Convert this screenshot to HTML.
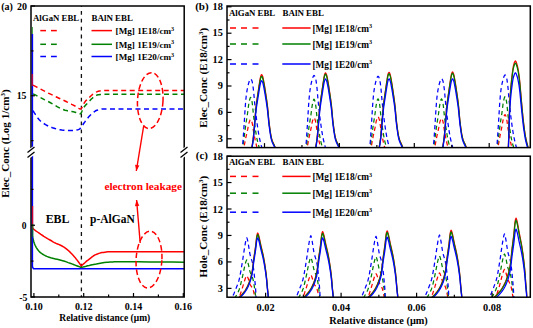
<!DOCTYPE html>
<html><head><meta charset="utf-8"><style>
html,body{margin:0;padding:0;background:#fff;width:533px;height:328px;overflow:hidden}
svg{display:block}
text{font-family:"Liberation Serif",serif;font-weight:bold}
</style></head><body>
<svg width="533" height="328" viewBox="0 0 533 328">
<clipPath id="ca"><rect x="31" y="6" width="153" height="291"/></clipPath>
<g clip-path="url(#ca)">
<line x1="81.4" y1="6" x2="81.4" y2="297" stroke="#111" stroke-width="1.3" stroke-dasharray="3.8,4.1" stroke-dashoffset="3.0"/>
<polyline points="33.0,85.2 36.8,87.2 40.7,89.2 44.5,91.1 48.3,93.1 52.2,94.9 56.0,96.8 57.5,97.5 59.0,98.2 60.5,98.9 62.0,99.6 63.5,100.3 65.0,101.0 66.7,101.8 68.3,102.6 70.0,103.4 71.7,104.3 73.3,105.1 75.0,106.0 75.9,106.6 76.8,107.2 77.8,107.9 78.7,108.4 79.6,108.8 80.5,109.0 81.2,108.6 82.0,107.5 82.8,106.1 83.5,104.5 84.2,103.0 85.0,101.8 85.8,100.8 86.7,99.9 87.5,99.1 88.3,98.3 89.2,97.6 90.0,96.8 90.8,96.0 91.7,95.2 92.5,94.4 93.3,93.7 94.2,93.1 95.0,92.6 95.8,92.2 96.7,91.9 97.5,91.5 98.3,91.3 99.2,91.0 100.0,90.9 101.0,90.8 102.0,90.6 103.0,90.5 104.0,90.5 105.0,90.4 106.0,90.4 119.0,90.4 132.0,90.4 145.0,90.4 158.0,90.4 171.0,90.4 184.0,90.4" fill="none" stroke="#ff0000" stroke-width="1.5" stroke-dasharray="5,3.5" stroke-linejoin="round" />
<polyline points="33.0,93.8 35.8,95.2 38.7,96.7 41.5,98.1 44.3,99.6 47.2,101.0 50.0,102.5 52.5,103.9 55.0,105.3 57.5,106.8 60.0,108.2 62.5,109.3 65.0,110.2 66.7,110.6 68.3,111.0 70.0,111.2 71.7,111.5 73.3,111.8 75.0,112.2 75.9,112.5 76.8,112.8 77.8,113.2 78.7,113.5 79.6,113.7 80.5,113.8 80.9,113.5 81.3,112.7 81.8,111.6 82.2,110.5 82.6,109.3 83.0,108.5 83.8,107.3 84.7,106.2 85.5,105.2 86.3,104.4 87.2,103.5 88.0,102.6 88.8,101.7 89.7,100.8 90.5,99.9 91.3,99.0 92.2,98.3 93.0,97.6 93.8,97.0 94.7,96.4 95.5,95.8 96.3,95.4 97.2,95.0 98.0,94.8 99.0,94.7 100.0,94.5 101.0,94.4 102.0,94.4 103.0,94.3 104.0,94.3 117.3,94.3 130.7,94.3 144.0,94.3 157.3,94.3 170.7,94.3 184.0,94.3" fill="none" stroke="#008000" stroke-width="1.5" stroke-dasharray="5,3.5" stroke-linejoin="round" />
<polyline points="33.0,110.6 34.2,112.7 35.5,114.7 36.8,116.6 38.0,118.3 39.2,119.8 40.5,121.0 42.2,122.3 43.8,123.5 45.5,124.6 47.2,125.5 48.8,126.3 50.5,127.0 52.4,127.7 54.2,128.3 56.1,128.9 58.0,129.4 59.9,129.7 61.8,130.0 63.4,130.2 65.1,130.3 66.8,130.4 68.4,130.5 70.1,130.6 71.8,130.6 73.0,130.6 74.2,130.5 75.4,130.3 76.6,130.1 77.8,129.8 79.0,129.4 79.3,129.2 79.7,129.0 80.0,128.7 80.3,128.3 80.7,127.9 81.0,127.5 81.2,127.3 81.3,127.0 81.5,126.8 81.7,126.5 81.8,126.3 82.0,126.0 82.7,125.0 83.3,124.0 84.0,123.0 84.7,122.1 85.3,121.2 86.0,120.3 87.0,119.0 88.0,117.8 89.0,116.6 90.0,115.5 91.0,114.5 92.0,113.6 92.8,112.9 93.7,112.2 94.5,111.6 95.3,111.0 96.2,110.5 97.0,110.2 98.2,109.9 99.3,109.6 100.5,109.3 101.7,109.1 102.8,108.9 104.0,108.9 117.3,108.9 130.7,108.9 144.0,108.9 157.3,108.9 170.7,108.9 184.0,108.9" fill="none" stroke="#0000ff" stroke-width="1.5" stroke-dasharray="5,3.5" stroke-linejoin="round" />
<polyline points="32.4,228.2 34.1,229.5 35.8,230.8 37.5,232.0 39.2,233.2 40.9,234.4 42.6,235.5 43.8,236.3 45.1,237.1 46.3,237.8 47.5,238.6 48.8,239.3 50.0,240.0 50.9,240.5 51.8,241.0 52.6,241.6 53.5,242.1 54.4,242.6 55.3,243.0 56.1,243.4 56.9,243.7 57.6,244.0 58.4,244.3 59.2,244.6 60.0,245.0 61.0,245.5 62.0,246.0 63.0,246.6 64.0,247.2 65.0,247.9 66.0,248.6 67.3,249.6 68.6,250.7 69.8,251.9 71.1,253.2 72.4,254.6 73.7,256.0 75.0,257.4 76.2,259.0 77.5,260.6 78.7,262.3 80.0,264.1 81.2,266.0 81.2,266.0 82.4,264.9 83.6,263.8 84.8,262.8 86.0,261.7 87.2,260.7 88.4,259.8 89.6,258.8 90.9,257.8 92.1,256.9 93.3,256.0 94.6,255.2 95.8,254.6 96.8,254.2 97.9,253.8 98.9,253.4 99.9,253.1 101.0,252.8 102.0,252.6 103.5,252.4 104.9,252.2 106.3,252.0 107.8,251.8 109.2,251.7 110.7,251.7 122.9,251.7 135.1,251.7 147.3,251.7 159.6,251.7 171.8,251.7 184.0,251.7" fill="none" stroke="#ff0000" stroke-width="1.5" stroke-linejoin="round" />
<polyline points="32.2,150.0 32.4,228.2" fill="none" stroke="#ff0000" stroke-width="1.2" stroke-linejoin="round" />
<polyline points="32.4,236.5 32.9,238.3 33.4,240.1 33.8,241.7 34.3,243.2 34.8,244.5 35.3,245.6 36.2,247.3 37.1,248.8 38.0,250.1 39.0,251.2 39.9,252.1 40.8,252.9 42.3,254.0 43.8,254.9 45.3,255.7 46.9,256.4 48.4,257.0 49.9,257.5 51.7,258.1 53.6,258.5 55.4,258.9 57.2,259.3 59.1,259.7 60.9,260.2 62.7,260.7 64.6,261.3 66.4,261.9 68.2,262.6 70.1,263.2 71.9,263.9 73.5,264.5 75.0,265.1 76.6,265.7 78.1,266.3 79.7,266.9 81.2,267.6 81.2,267.6 82.8,267.1 84.4,266.7 86.1,266.3 87.7,265.8 89.3,265.5 90.9,265.1 93.6,264.5 96.3,264.0 99.0,263.4 101.6,263.0 104.3,262.6 107.0,262.3 108.5,262.2 109.9,262.1 111.3,262.0 112.8,261.9 114.2,261.8 115.7,261.8 127.1,261.8 138.5,261.8 149.8,261.9 161.2,261.9 172.6,262.1 184.0,262.3" fill="none" stroke="#008000" stroke-width="1.5" stroke-linejoin="round" />
<polyline points="32.2,180.0 32.4,236.5" fill="none" stroke="#008000" stroke-width="1.2" stroke-linejoin="round" />
<polyline points="32.4,34.0 32.4,266.5 33.4,268.8 184.0,268.8" fill="none" stroke="#0000ff" stroke-width="1.5" stroke-linejoin="round" />
</g>
<rect x="31" y="6" width="153.2" height="291" fill="none" stroke="#000000" stroke-width="1.5"/>
<line x1="32.4" y1="34" x2="32.4" y2="268" stroke="#0000ff" stroke-width="1.1"/>
<line x1="32.3" y1="27" x2="32.3" y2="34" stroke="#008000" stroke-width="0.9"/>
<line x1="32.2" y1="74" x2="32.2" y2="86" stroke="#ff0000" stroke-width="1.0"/>
<line x1="32.7" y1="206" x2="32.7" y2="229" stroke="#ff0000" stroke-width="1.0"/>
<line x1="32.8" y1="224" x2="32.8" y2="237" stroke="#008000" stroke-width="1.0"/>
<line x1="31" y1="6.0" x2="35" y2="6.0" stroke="#000000" stroke-width="1.2"/>
<line x1="31" y1="95.75" x2="35" y2="95.75" stroke="#000000" stroke-width="1.2"/>
<line x1="31" y1="225.25" x2="35" y2="225.25" stroke="#000000" stroke-width="1.2"/>
<line x1="31" y1="297.0" x2="35" y2="297.0" stroke="#000000" stroke-width="1.2"/>
<line x1="31" y1="50.875" x2="33.5" y2="50.875" stroke="#000000" stroke-width="1.2"/>
<line x1="31" y1="140.625" x2="33.5" y2="140.625" stroke="#000000" stroke-width="1.2"/>
<line x1="31" y1="189.375" x2="33.5" y2="189.375" stroke="#000000" stroke-width="1.2"/>
<line x1="31" y1="261.125" x2="33.5" y2="261.125" stroke="#000000" stroke-width="1.2"/>
<line x1="33.9" y1="297" x2="33.9" y2="293" stroke="#000000" stroke-width="1.2"/>
<line x1="83.69999999999996" y1="297" x2="83.69999999999996" y2="293" stroke="#000000" stroke-width="1.2"/>
<line x1="133.50000000000003" y1="297" x2="133.50000000000003" y2="293" stroke="#000000" stroke-width="1.2"/>
<line x1="183.29999999999998" y1="297" x2="183.29999999999998" y2="293" stroke="#000000" stroke-width="1.2"/>
<line x1="58.79999999999998" y1="297" x2="58.79999999999998" y2="294.5" stroke="#000000" stroke-width="1.2"/>
<line x1="108.6" y1="297" x2="108.6" y2="294.5" stroke="#000000" stroke-width="1.2"/>
<line x1="158.39999999999998" y1="297" x2="158.39999999999998" y2="294.5" stroke="#000000" stroke-width="1.2"/>
<polygon points="27,150.5 35,145 35,154.5 27,160" fill="#fff"/>
<line x1="27.5" y1="152.5" x2="34.5" y2="147" stroke="#000000" stroke-width="1.3"/>
<line x1="27.5" y1="157.5" x2="34.5" y2="152" stroke="#000000" stroke-width="1.3"/>
<polygon points="180,150.5 188,145 188,154.5 180,160" fill="#fff"/>
<line x1="180.5" y1="152.5" x2="187.5" y2="147" stroke="#000000" stroke-width="1.3"/>
<line x1="180.5" y1="157.5" x2="187.5" y2="152" stroke="#000000" stroke-width="1.3"/>
<ellipse cx="150.25" cy="100.6" rx="12.75" ry="28" transform="rotate(3 150.25 100.6)" fill="none" stroke="#ff0000" stroke-width="1.5" stroke-dasharray="5.5,3"/>
<ellipse cx="149" cy="259.6" rx="12.9" ry="28.4" transform="rotate(3 149 259.6)" fill="none" stroke="#ff0000" stroke-width="1.5" stroke-dasharray="5.5,3"/>
<line x1="143.75" y1="125.5" x2="136.3" y2="171" stroke="#ff0000" stroke-width="1.4"/>
<polygon points="136.3,171 135.10,164.72 139.44,165.43" fill="#ff0000"/>
<line x1="140.2" y1="243" x2="136.6" y2="200" stroke="#ff0000" stroke-width="1.4"/>
<polygon points="136.6,200 139.29,205.80 134.91,206.16" fill="#ff0000"/>
<clipPath id="cb"><rect x="227" y="6" width="303" height="141.6"/></clipPath>
<g clip-path="url(#cb)">
<polyline points="228.6,165.1 229.1,165.1 229.6,165.1 230.1,165.0 230.6,165.0 231.1,165.0 231.6,165.0 232.1,164.9 232.6,164.9 233.1,164.9 233.6,164.8 234.1,164.8 234.6,164.7 235.1,164.6 235.6,164.6 236.1,164.5 236.6,164.4 237.1,164.3 237.6,164.1 238.1,164.0 238.6,163.8 239.1,163.3 239.6,162.5 240.1,161.6 240.6,160.6 241.1,159.4 241.6,157.9 242.1,156.1 242.6,153.8 243.1,151.4 243.6,148.9 244.1,146.4 244.6,143.9 245.1,141.3 245.6,138.7 246.1,136.4 246.6,134.3 247.1,132.2 247.6,129.9 248.1,127.2 248.6,124.6 249.1,122.6 249.6,121.2 250.1,119.9 250.6,119.4 251.1,119.9 251.6,121.1 252.1,122.6 252.6,125.2 253.1,128.7 253.6,131.9 254.1,134.6 254.6,137.2 255.1,139.6 255.6,141.9 256.1,144.0 256.6,146.1 257.1,147.8 257.6,149.3 258.1,150.7 258.6,151.9 259.1,153.1 259.6,154.2 260.1,155.2 260.6,156.2 261.1,157.1 261.6,158.1 262.1,159.0 262.6,159.9 263.1,160.6 263.6,161.3 264.1,161.9 264.6,162.5 265.1,163.0 265.6,163.4 266.1,163.6 266.6,163.8 267.1,163.9 267.6,164.1 268.1,164.2 268.6,164.3 269.1,164.4 269.6,164.5 270.1,164.6 270.6,164.7 271.1,164.7 271.6,164.8 272.1,164.8 272.6,164.9 273.1,164.9 273.6,165.0 274.1,165.0 274.6,165.0 275.1,165.0 275.6,165.0" fill="none" stroke="#ff0000" stroke-width="1.25" stroke-dasharray="4.2,3.2" stroke-linejoin="round" />
<polyline points="228.6,165.0 229.1,165.0 229.6,165.0 230.1,165.0 230.6,164.9 231.1,164.9 231.6,164.8 232.1,164.8 232.6,164.7 233.1,164.7 233.6,164.6 234.1,164.5 234.6,164.5 235.1,164.4 235.6,164.2 236.1,164.1 236.6,164.0 237.1,163.8 237.6,163.6 238.1,163.4 238.6,163.2 239.1,162.4 239.6,161.3 240.1,159.9 240.6,158.4 241.1,156.6 241.6,154.4 242.1,151.7 242.6,148.3 243.1,144.7 243.6,141.1 244.1,137.4 244.6,133.6 245.1,129.8 245.6,126.0 246.1,122.5 246.6,119.4 247.1,116.3 247.6,113.0 248.1,109.0 248.6,105.1 249.1,102.2 249.6,100.0 250.1,98.2 250.6,97.4 251.1,98.1 251.6,99.9 252.1,102.2 252.6,106.0 253.1,111.2 253.6,115.9 254.1,119.9 254.6,123.7 255.1,127.3 255.6,130.6 256.1,133.9 256.6,136.8 257.1,139.5 257.6,141.7 258.1,143.7 258.6,145.5 259.1,147.2 259.6,148.9 260.1,150.4 260.6,151.8 261.1,153.3 261.6,154.7 262.1,156.1 262.6,157.3 263.1,158.4 263.6,159.4 264.1,160.3 264.6,161.1 265.1,161.9 265.6,162.5 266.1,162.8 266.6,163.1 267.1,163.3 267.6,163.6 268.1,163.7 268.6,163.9 269.1,164.1 269.6,164.2 270.1,164.3 270.6,164.4 271.1,164.5 271.6,164.6 272.1,164.7 272.6,164.7 273.1,164.8 273.6,164.8 274.1,164.9 274.6,164.9 275.1,164.9 275.6,165.0" fill="none" stroke="#008000" stroke-width="1.25" stroke-dasharray="4.2,3.2" stroke-linejoin="round" />
<polyline points="228.6,165.0 229.1,165.0 229.6,164.9 230.1,164.9 230.6,164.8 231.1,164.8 231.6,164.8 232.1,164.7 232.6,164.6 233.1,164.5 233.6,164.5 234.1,164.4 234.6,164.2 235.1,164.1 235.6,164.0 236.1,163.8 236.6,163.6 237.1,163.4 237.6,163.2 238.1,162.9 238.6,162.6 239.1,161.8 239.6,160.6 240.1,159.0 240.6,157.3 241.1,155.4 241.6,153.0 242.1,150.0 242.6,145.8 243.1,139.6 243.6,132.3 244.1,124.9 244.6,116.9 245.1,108.9 245.6,102.4 246.1,97.0 246.6,93.1 247.1,90.1 247.6,87.5 248.1,85.3 248.6,83.4 249.1,81.7 249.6,80.5 250.1,79.4 250.6,79.0 251.1,79.3 251.6,80.1 252.1,81.2 252.6,83.7 253.1,87.1 253.6,91.1 254.1,96.7 254.6,102.2 255.1,107.0 255.6,111.5 256.1,115.8 256.6,119.8 257.1,123.5 257.6,127.1 258.1,130.4 258.6,133.5 259.1,136.2 259.6,138.7 260.1,141.0 260.6,143.1 261.1,145.1 261.6,146.9 262.1,148.6 262.6,150.1 263.1,151.6 263.6,153.0 264.1,154.3 264.6,155.5 265.1,156.6 265.6,157.6 266.1,158.6 266.6,159.5 267.1,160.3 267.6,161.1 268.1,161.8 268.6,162.2 269.1,162.5 269.6,162.8 270.1,163.1 270.6,163.4 271.1,163.6 271.6,163.8 272.1,163.9 272.6,164.1 273.1,164.2 273.6,164.3 274.1,164.4 274.6,164.5 275.1,164.6 275.6,164.7" fill="none" stroke="#0000ff" stroke-width="1.25" stroke-dasharray="4.2,3.2" stroke-linejoin="round" />
<polyline points="231.6,165.2 232.1,165.1 232.6,165.1 233.1,165.1 233.6,165.1 234.1,165.1 234.6,165.1 235.1,165.1 235.6,165.1 236.1,165.0 236.6,165.0 237.1,165.0 237.6,165.0 238.1,164.9 238.6,164.9 239.1,164.9 239.6,164.8 240.1,164.8 240.6,164.7 241.1,164.7 241.6,164.6 242.1,164.5 242.6,164.4 243.1,164.3 243.6,164.2 244.1,164.1 244.6,163.9 245.1,163.7 245.6,163.6 246.1,163.3 246.6,163.1 247.1,162.8 247.6,162.5 248.1,162.1 248.6,161.2 249.1,159.9 249.6,158.5 250.1,156.8 250.6,154.9 251.1,152.2 251.6,149.1 252.1,145.9 252.6,142.8 253.1,139.4 253.6,134.6 254.1,128.7 254.6,122.8 255.1,117.0 255.6,111.3 256.1,106.3 256.6,102.2 257.1,98.7 257.6,95.4 258.1,92.0 258.6,88.6 259.1,85.2 259.6,82.1 260.1,78.9 260.6,76.6 261.1,75.2 261.6,74.6 262.1,75.1 262.6,76.3 263.1,78.0 263.6,80.5 264.1,83.3 264.6,86.2 265.1,89.4 265.6,92.7 266.1,96.0 266.6,99.4 267.1,103.1 267.6,107.2 268.1,112.4 268.6,118.0 269.1,122.8 269.6,126.7 270.1,130.3 270.6,133.6 271.1,136.4 271.6,138.6 272.1,140.2 272.6,141.5 273.1,142.6 273.6,143.7 274.1,144.7 274.6,145.9 275.1,147.2 275.6,148.5 276.1,149.8 276.6,151.1 277.1,152.3 277.6,153.4 278.1,154.5 278.6,155.5 279.1,156.5 279.6,157.4 280.1,158.3 280.6,159.1 281.1,159.9 281.6,160.7 282.1,161.2 282.6,161.7 283.1,162.1 283.6,162.5 284.1,162.8 284.6,163.1 285.1,163.3 285.6,163.5 286.1,163.7 286.6,163.9" fill="none" stroke="#ff0000" stroke-width="1.25" stroke-linejoin="round" />
<polyline points="231.6,165.2 232.1,165.1 232.6,165.1 233.1,165.1 233.6,165.1 234.1,165.1 234.6,165.1 235.1,165.1 235.6,165.1 236.1,165.0 236.6,165.0 237.1,165.0 237.6,165.0 238.1,165.0 238.6,164.9 239.1,164.9 239.6,164.8 240.1,164.8 240.6,164.7 241.1,164.7 241.6,164.6 242.1,164.5 242.6,164.4 243.1,164.3 243.6,164.2 244.1,164.1 244.6,163.9 245.1,163.8 245.6,163.6 246.1,163.4 246.6,163.1 247.1,162.8 247.6,162.5 248.1,162.1 248.6,161.3 249.1,160.0 249.6,158.6 250.1,157.0 250.6,155.1 251.1,152.5 251.6,149.4 252.1,146.3 252.6,143.3 253.1,139.9 253.6,135.2 254.1,129.4 254.6,123.6 255.1,117.9 255.6,112.3 256.1,107.4 256.6,103.5 257.1,100.0 257.6,96.7 258.1,93.4 258.6,90.1 259.1,86.8 259.6,83.7 260.1,80.6 260.6,78.3 261.1,76.9 261.6,76.3 262.1,76.8 262.6,78.0 263.1,79.7 263.6,82.2 264.1,84.9 264.6,87.7 265.1,90.9 265.6,94.1 266.1,97.3 266.6,100.7 267.1,104.3 267.6,108.3 268.1,113.4 268.6,118.9 269.1,123.6 269.6,127.4 270.1,131.0 270.6,134.2 271.1,137.0 271.6,139.1 272.1,140.7 272.6,142.0 273.1,143.1 273.6,144.1 274.1,145.1 274.6,146.3 275.1,147.5 275.6,148.8 276.1,150.1 276.6,151.3 277.1,152.5 277.6,153.6 278.1,154.7 278.6,155.7 279.1,156.6 279.6,157.5 280.1,158.4 280.6,159.3 281.1,160.0 281.6,160.8 282.1,161.3 282.6,161.7 283.1,162.1 283.6,162.5 284.1,162.8 284.6,163.1 285.1,163.3 285.6,163.6 286.1,163.8 286.6,163.9" fill="none" stroke="#008000" stroke-width="1.25" stroke-linejoin="round" />
<polyline points="231.6,165.2 232.1,165.1 232.6,165.1 233.1,165.1 233.6,165.1 234.1,165.1 234.6,165.1 235.1,165.1 235.6,165.1 236.1,165.1 236.6,165.0 237.1,165.0 237.6,165.0 238.1,165.0 238.6,164.9 239.1,164.9 239.6,164.9 240.1,164.8 240.6,164.8 241.1,164.7 241.6,164.6 242.1,164.6 242.6,164.5 243.1,164.4 243.6,164.3 244.1,164.1 244.6,164.0 245.1,163.8 245.6,163.7 246.1,163.5 246.6,163.2 247.1,163.0 247.6,162.7 248.1,162.3 248.6,161.4 249.1,160.3 249.6,158.9 250.1,157.4 250.6,155.6 251.1,153.1 251.6,150.2 252.1,147.2 252.6,144.4 253.1,141.1 253.6,136.7 254.1,131.2 254.6,125.7 255.1,120.3 255.6,114.9 256.1,110.3 256.6,106.5 257.1,103.2 257.6,100.1 258.1,97.0 258.6,93.8 259.1,90.7 259.6,87.7 260.1,84.8 260.6,82.6 261.1,81.3 261.6,80.7 262.1,81.2 262.6,82.3 263.1,83.9 263.6,86.3 264.1,88.8 264.6,91.6 265.1,94.5 265.6,97.6 266.1,100.7 266.6,103.9 267.1,107.3 267.6,111.1 268.1,116.0 268.6,121.2 269.1,125.7 269.6,129.3 270.1,132.7 270.6,135.8 271.1,138.4 271.6,140.4 272.1,141.9 272.6,143.1 273.1,144.2 273.6,145.1 274.1,146.1 274.6,147.2 275.1,148.4 275.6,149.6 276.1,150.8 276.6,152.0 277.1,153.2 277.6,154.2 278.1,155.2 278.6,156.1 279.1,157.1 279.6,157.9 280.1,158.8 280.6,159.5 281.1,160.3 281.6,161.0 282.1,161.5 282.6,161.9 283.1,162.3 283.6,162.6 284.1,162.9 284.6,163.2 285.1,163.4 285.6,163.6 286.1,163.8 286.6,164.0" fill="none" stroke="#0000ff" stroke-width="1.25" stroke-linejoin="round" />
<polyline points="292.0,165.1 292.5,165.1 293.0,165.0 293.5,165.0 294.0,165.0 294.5,165.0 295.0,165.0 295.5,164.9 296.0,164.9 296.5,164.8 297.0,164.8 297.5,164.7 298.0,164.7 298.5,164.6 299.0,164.5 299.5,164.4 300.0,164.3 300.5,164.2 301.0,164.1 301.5,163.9 302.0,163.8 302.5,163.2 303.0,162.4 303.5,161.5 304.0,160.4 304.5,159.2 305.0,157.6 305.5,155.8 306.0,153.3 306.5,150.9 307.0,148.3 307.5,145.7 308.0,143.1 308.5,140.4 309.0,137.7 309.5,135.3 310.0,133.1 310.5,130.9 311.0,128.6 311.5,125.8 312.0,123.1 312.5,121.0 313.0,119.5 313.5,118.2 314.0,117.7 314.5,118.2 315.0,119.4 315.5,121.0 316.0,123.7 316.5,127.3 317.0,130.6 317.5,133.4 318.0,136.1 318.5,138.6 319.0,141.0 319.5,143.2 320.0,145.3 320.5,147.1 321.0,148.7 321.5,150.1 322.0,151.4 322.5,152.6 323.0,153.8 323.5,154.8 324.0,155.8 324.5,156.8 325.0,157.8 325.5,158.8 326.0,159.7 326.5,160.4 327.0,161.1 327.5,161.8 328.0,162.4 328.5,162.9 329.0,163.3 329.5,163.5 330.0,163.7 330.5,163.9 331.0,164.0 331.5,164.2 332.0,164.3 332.5,164.4 333.0,164.5 333.5,164.6 334.0,164.7 334.5,164.7 335.0,164.8 335.5,164.8 336.0,164.9 336.5,164.9 337.0,164.9 337.5,165.0 338.0,165.0 338.5,165.0 339.0,165.0" fill="none" stroke="#ff0000" stroke-width="1.25" stroke-dasharray="4.2,3.2" stroke-linejoin="round" />
<polyline points="292.0,165.0 292.5,165.0 293.0,165.0 293.5,165.0 294.0,164.9 294.5,164.9 295.0,164.9 295.5,164.8 296.0,164.8 296.5,164.7 297.0,164.6 297.5,164.6 298.0,164.5 298.5,164.4 299.0,164.3 299.5,164.1 300.0,164.0 300.5,163.8 301.0,163.7 301.5,163.5 302.0,163.2 302.5,162.5 303.0,161.4 303.5,160.1 304.0,158.6 304.5,156.8 305.0,154.7 305.5,152.1 306.0,148.7 306.5,145.3 307.0,141.7 307.5,138.1 308.0,134.5 308.5,130.7 309.0,127.0 309.5,123.6 310.0,120.6 310.5,117.6 311.0,114.3 311.5,110.5 312.0,106.7 312.5,103.8 313.0,101.7 313.5,99.9 314.0,99.2 314.5,99.9 315.0,101.6 315.5,103.8 316.0,107.5 316.5,112.6 317.0,117.2 317.5,121.1 318.0,124.8 318.5,128.2 319.0,131.5 319.5,134.7 320.0,137.6 320.5,140.1 321.0,142.3 321.5,144.2 322.0,146.0 322.5,147.7 323.0,149.3 323.5,150.8 324.0,152.2 324.5,153.6 325.0,155.0 325.5,156.3 326.0,157.5 326.5,158.6 327.0,159.6 327.5,160.4 328.0,161.2 328.5,162.0 329.0,162.6 329.5,162.9 330.0,163.1 330.5,163.4 331.0,163.6 331.5,163.8 332.0,164.0 332.5,164.1 333.0,164.2 333.5,164.3 334.0,164.4 334.5,164.5 335.0,164.6 335.5,164.7 336.0,164.7 336.5,164.8 337.0,164.8 337.5,164.9 338.0,164.9 338.5,165.0 339.0,165.0" fill="none" stroke="#008000" stroke-width="1.25" stroke-dasharray="4.2,3.2" stroke-linejoin="round" />
<polyline points="292.0,165.0 292.5,164.9 293.0,164.9 293.5,164.9 294.0,164.8 294.5,164.8 295.0,164.7 295.5,164.7 296.0,164.6 296.5,164.5 297.0,164.4 297.5,164.3 298.0,164.2 298.5,164.1 299.0,163.9 299.5,163.8 300.0,163.6 300.5,163.3 301.0,163.1 301.5,162.8 302.0,162.5 302.5,161.6 303.0,160.4 303.5,158.8 304.0,157.0 304.5,155.0 305.0,152.5 305.5,149.4 306.0,145.0 306.5,138.5 307.0,130.9 307.5,123.3 308.0,115.0 308.5,106.6 309.0,99.9 309.5,94.2 310.0,90.2 310.5,87.0 311.0,84.3 311.5,82.1 312.0,80.0 312.5,78.3 313.0,77.0 313.5,75.9 314.0,75.4 314.5,75.8 315.0,76.6 315.5,77.8 316.0,80.3 316.5,83.9 317.0,88.0 317.5,93.9 318.0,99.7 318.5,104.6 319.0,109.3 319.5,113.8 320.0,118.0 320.5,121.8 321.0,125.5 321.5,129.0 322.0,132.2 322.5,135.0 323.0,137.6 323.5,140.0 324.0,142.2 324.5,144.2 325.0,146.1 325.5,147.9 326.0,149.5 326.5,151.1 327.0,152.5 327.5,153.8 328.0,155.1 328.5,156.2 329.0,157.3 329.5,158.3 330.0,159.2 330.5,160.1 331.0,160.9 331.5,161.6 332.0,162.0 332.5,162.4 333.0,162.7 333.5,163.0 334.0,163.3 334.5,163.5 335.0,163.7 335.5,163.9 336.0,164.0 336.5,164.2 337.0,164.3 337.5,164.4 338.0,164.5 338.5,164.6 339.0,164.6" fill="none" stroke="#0000ff" stroke-width="1.25" stroke-dasharray="4.2,3.2" stroke-linejoin="round" />
<polyline points="295.5,165.1 296.0,165.1 296.5,165.1 297.0,165.1 297.5,165.1 298.0,165.1 298.5,165.1 299.0,165.1 299.5,165.1 300.0,165.0 300.5,165.0 301.0,165.0 301.5,165.0 302.0,164.9 302.5,164.9 303.0,164.9 303.5,164.8 304.0,164.8 304.5,164.7 305.0,164.7 305.5,164.6 306.0,164.5 306.5,164.4 307.0,164.3 307.5,164.2 308.0,164.0 308.5,163.9 309.0,163.7 309.5,163.5 310.0,163.3 310.5,163.0 311.0,162.8 311.5,162.4 312.0,162.0 312.5,161.1 313.0,159.8 313.5,158.3 314.0,156.7 314.5,154.7 315.0,152.0 315.5,148.8 316.0,145.5 316.5,142.4 317.0,138.9 317.5,134.0 318.0,128.0 318.5,122.0 319.0,116.1 319.5,110.2 320.0,105.1 320.5,101.0 321.0,97.4 321.5,94.0 322.0,90.6 322.5,87.1 323.0,83.7 323.5,80.5 324.0,77.2 324.5,74.8 325.0,73.4 325.5,72.8 326.0,73.4 326.5,74.6 327.0,76.3 327.5,78.9 328.0,81.7 328.5,84.7 329.0,87.9 329.5,91.3 330.0,94.7 330.5,98.1 331.0,101.8 331.5,106.0 332.0,111.3 332.5,117.1 333.0,122.0 333.5,125.9 334.0,129.7 334.5,133.0 335.0,135.8 335.5,138.0 336.0,139.7 336.5,141.0 337.0,142.2 337.5,143.3 338.0,144.3 338.5,145.5 339.0,146.8 339.5,148.1 340.0,149.5 340.5,150.8 341.0,152.0 341.5,153.2 342.0,154.3 342.5,155.3 343.0,156.3 343.5,157.2 344.0,158.2 344.5,159.0 345.0,159.8 345.5,160.6 346.0,161.1 346.5,161.6 347.0,162.0 347.5,162.4 348.0,162.7 348.5,163.0 349.0,163.3 349.5,163.5 350.0,163.7 350.5,163.9" fill="none" stroke="#ff0000" stroke-width="1.25" stroke-linejoin="round" />
<polyline points="295.5,165.1 296.0,165.1 296.5,165.1 297.0,165.1 297.5,165.1 298.0,165.1 298.5,165.1 299.0,165.1 299.5,165.1 300.0,165.0 300.5,165.0 301.0,165.0 301.5,165.0 302.0,164.9 302.5,164.9 303.0,164.9 303.5,164.8 304.0,164.8 304.5,164.7 305.0,164.7 305.5,164.6 306.0,164.5 306.5,164.4 307.0,164.3 307.5,164.2 308.0,164.1 308.5,163.9 309.0,163.7 309.5,163.5 310.0,163.3 310.5,163.1 311.0,162.8 311.5,162.5 312.0,162.0 312.5,161.2 313.0,159.9 313.5,158.4 314.0,156.8 314.5,154.9 315.0,152.2 315.5,149.0 316.0,145.8 316.5,142.7 317.0,139.2 317.5,134.5 318.0,128.5 318.5,122.6 319.0,116.8 319.5,111.0 320.0,106.0 320.5,101.9 321.0,98.4 321.5,95.0 322.0,91.6 322.5,88.2 323.0,84.8 323.5,81.7 324.0,78.5 324.5,76.1 325.0,74.8 325.5,74.1 326.0,74.7 326.5,75.9 327.0,77.6 327.5,80.1 328.0,82.9 328.5,85.8 329.0,89.0 329.5,92.3 330.0,95.7 330.5,99.1 331.0,102.8 331.5,106.9 332.0,112.1 332.5,117.8 333.0,122.6 333.5,126.5 334.0,130.2 334.5,133.5 335.0,136.3 335.5,138.4 336.0,140.0 336.5,141.4 337.0,142.5 337.5,143.6 338.0,144.6 338.5,145.8 339.0,147.1 339.5,148.4 340.0,149.7 340.5,151.0 341.0,152.2 341.5,153.4 342.0,154.4 342.5,155.4 343.0,156.4 343.5,157.4 344.0,158.3 344.5,159.1 345.0,159.9 345.5,160.6 346.0,161.2 346.5,161.7 347.0,162.1 347.5,162.4 348.0,162.8 348.5,163.0 349.0,163.3 349.5,163.5 350.0,163.7 350.5,163.9" fill="none" stroke="#008000" stroke-width="1.25" stroke-linejoin="round" />
<polyline points="295.5,165.2 296.0,165.1 296.5,165.1 297.0,165.1 297.5,165.1 298.0,165.1 298.5,165.1 299.0,165.1 299.5,165.1 300.0,165.1 300.5,165.0 301.0,165.0 301.5,165.0 302.0,165.0 302.5,164.9 303.0,164.9 303.5,164.8 304.0,164.8 304.5,164.8 305.0,164.7 305.5,164.6 306.0,164.5 306.5,164.5 307.0,164.4 307.5,164.2 308.0,164.1 308.5,164.0 309.0,163.8 309.5,163.6 310.0,163.4 310.5,163.2 311.0,162.9 311.5,162.6 312.0,162.2 312.5,161.4 313.0,160.2 313.5,158.8 314.0,157.2 314.5,155.4 315.0,152.9 315.5,149.9 316.0,146.8 316.5,143.9 317.0,140.6 317.5,136.1 318.0,130.5 318.5,124.8 319.0,119.3 319.5,113.9 320.0,109.1 320.5,105.3 321.0,101.9 321.5,98.8 322.0,95.6 322.5,92.3 323.0,89.1 323.5,86.1 324.0,83.1 324.5,80.9 325.0,79.6 325.5,79.0 326.0,79.5 326.5,80.6 327.0,82.2 327.5,84.6 328.0,87.2 328.5,90.0 329.0,93.1 329.5,96.2 330.0,99.4 330.5,102.6 331.0,106.1 331.5,110.0 332.0,114.9 332.5,120.3 333.0,124.8 333.5,128.6 334.0,132.0 334.5,135.2 335.0,137.8 335.5,139.8 336.0,141.4 336.5,142.6 337.0,143.7 337.5,144.7 338.0,145.7 338.5,146.8 339.0,148.0 339.5,149.3 340.0,150.5 340.5,151.8 341.0,152.9 341.5,154.0 342.0,155.0 342.5,155.9 343.0,156.9 343.5,157.8 344.0,158.6 344.5,159.4 345.0,160.2 345.5,160.9 346.0,161.4 346.5,161.8 347.0,162.2 347.5,162.6 348.0,162.9 348.5,163.2 349.0,163.4 349.5,163.6 350.0,163.8 350.5,164.0" fill="none" stroke="#0000ff" stroke-width="1.25" stroke-linejoin="round" />
<polyline points="356.0,165.1 356.5,165.1 357.0,165.0 357.5,165.0 358.0,165.0 358.5,165.0 359.0,164.9 359.5,164.9 360.0,164.9 360.5,164.8 361.0,164.8 361.5,164.7 362.0,164.7 362.5,164.6 363.0,164.5 363.5,164.4 364.0,164.3 364.5,164.2 365.0,164.1 365.5,163.9 366.0,163.7 366.5,163.2 367.0,162.4 367.5,161.4 368.0,160.4 368.5,159.1 369.0,157.5 369.5,155.6 370.0,153.1 370.5,150.6 371.0,148.0 371.5,145.4 372.0,142.7 372.5,139.9 373.0,137.2 373.5,134.7 374.0,132.5 374.5,130.3 375.0,127.9 375.5,125.1 376.0,122.3 376.5,120.2 377.0,118.6 377.5,117.3 378.0,116.8 378.5,117.3 379.0,118.6 379.5,120.2 380.0,122.9 380.5,126.6 381.0,130.0 381.5,132.9 382.0,135.6 382.5,138.1 383.0,140.5 383.5,142.8 384.0,144.9 384.5,146.8 385.0,148.4 385.5,149.8 386.0,151.1 386.5,152.4 387.0,153.5 387.5,154.6 388.0,155.7 388.5,156.7 389.0,157.7 389.5,158.7 390.0,159.6 390.5,160.4 391.0,161.1 391.5,161.7 392.0,162.3 392.5,162.8 393.0,163.3 393.5,163.5 394.0,163.7 394.5,163.9 395.0,164.0 395.5,164.2 396.0,164.3 396.5,164.4 397.0,164.5 397.5,164.6 398.0,164.6 398.5,164.7 399.0,164.8 399.5,164.8 400.0,164.9 400.5,164.9 401.0,164.9 401.5,165.0 402.0,165.0 402.5,165.0 403.0,165.0" fill="none" stroke="#ff0000" stroke-width="1.25" stroke-dasharray="4.2,3.2" stroke-linejoin="round" />
<polyline points="356.0,165.0 356.5,165.0 357.0,165.0 357.5,165.0 358.0,164.9 358.5,164.9 359.0,164.9 359.5,164.8 360.0,164.8 360.5,164.7 361.0,164.6 361.5,164.6 362.0,164.5 362.5,164.4 363.0,164.3 363.5,164.1 364.0,164.0 364.5,163.8 365.0,163.6 365.5,163.4 366.0,163.2 366.5,162.4 367.0,161.4 367.5,160.0 368.0,158.6 368.5,156.8 369.0,154.6 369.5,152.0 370.0,148.6 370.5,145.1 371.0,141.6 371.5,138.0 372.0,134.3 372.5,130.5 373.0,126.8 373.5,123.3 374.0,120.3 374.5,117.3 375.0,114.0 375.5,110.1 376.0,106.3 376.5,103.4 377.0,101.3 377.5,99.5 378.0,98.8 378.5,99.5 379.0,101.2 379.5,103.4 380.0,107.1 380.5,112.2 381.0,116.8 381.5,120.8 382.0,124.5 382.5,128.0 383.0,131.3 383.5,134.5 384.0,137.4 384.5,140.0 385.0,142.1 385.5,144.1 386.0,145.9 386.5,147.6 387.0,149.2 387.5,150.7 388.0,152.1 388.5,153.5 389.0,154.9 389.5,156.2 390.0,157.5 390.5,158.6 391.0,159.5 391.5,160.4 392.0,161.2 392.5,161.9 393.0,162.5 393.5,162.9 394.0,163.1 394.5,163.4 395.0,163.6 395.5,163.8 396.0,163.9 396.5,164.1 397.0,164.2 397.5,164.3 398.0,164.4 398.5,164.5 399.0,164.6 399.5,164.7 400.0,164.7 400.5,164.8 401.0,164.8 401.5,164.9 402.0,164.9 402.5,165.0 403.0,165.0" fill="none" stroke="#008000" stroke-width="1.25" stroke-dasharray="4.2,3.2" stroke-linejoin="round" />
<polyline points="356.0,165.0 356.5,165.0 357.0,164.9 357.5,164.9 358.0,164.8 358.5,164.8 359.0,164.7 359.5,164.7 360.0,164.6 360.5,164.5 361.0,164.4 361.5,164.3 362.0,164.2 362.5,164.1 363.0,163.9 363.5,163.8 364.0,163.6 364.5,163.4 365.0,163.1 365.5,162.8 366.0,162.5 366.5,161.7 367.0,160.4 367.5,158.9 368.0,157.1 368.5,155.1 369.0,152.6 369.5,149.5 370.0,145.2 370.5,138.8 371.0,131.3 371.5,123.7 372.0,115.5 372.5,107.2 373.0,100.5 373.5,94.9 374.0,90.9 374.5,87.8 375.0,85.1 375.5,82.9 376.0,80.9 376.5,79.2 377.0,77.9 377.5,76.8 378.0,76.3 378.5,76.6 379.0,77.5 379.5,78.7 380.0,81.2 380.5,84.7 381.0,88.8 381.5,94.6 382.0,100.3 382.5,105.2 383.0,109.9 383.5,114.3 384.0,118.4 384.5,122.3 385.0,125.9 385.5,129.3 386.0,132.5 386.5,135.3 387.0,137.9 387.5,140.2 388.0,142.4 388.5,144.4 389.0,146.3 389.5,148.0 390.0,149.7 390.5,151.2 391.0,152.6 391.5,153.9 392.0,155.2 392.5,156.3 393.0,157.4 393.5,158.4 394.0,159.3 394.5,160.2 395.0,161.0 395.5,161.6 396.0,162.1 396.5,162.4 397.0,162.8 397.5,163.0 398.0,163.3 398.5,163.5 399.0,163.7 399.5,163.9 400.0,164.0 400.5,164.2 401.0,164.3 401.5,164.4 402.0,164.5 402.5,164.6 403.0,164.7" fill="none" stroke="#0000ff" stroke-width="1.25" stroke-dasharray="4.2,3.2" stroke-linejoin="round" />
<polyline points="359.0,165.1 359.5,165.1 360.0,165.1 360.5,165.1 361.0,165.1 361.5,165.1 362.0,165.1 362.5,165.1 363.0,165.1 363.5,165.0 364.0,165.0 364.5,165.0 365.0,165.0 365.5,164.9 366.0,164.9 366.5,164.9 367.0,164.8 367.5,164.8 368.0,164.7 368.5,164.7 369.0,164.6 369.5,164.5 370.0,164.4 370.5,164.3 371.0,164.2 371.5,164.0 372.0,163.9 372.5,163.7 373.0,163.5 373.5,163.3 374.0,163.0 374.5,162.7 375.0,162.4 375.5,162.0 376.0,161.1 376.5,159.8 377.0,158.3 377.5,156.6 378.0,154.7 378.5,151.9 379.0,148.7 379.5,145.4 380.0,142.3 380.5,138.7 381.0,133.9 381.5,127.8 382.0,121.7 382.5,115.8 383.0,109.9 383.5,104.8 384.0,100.7 384.5,97.0 385.0,93.6 385.5,90.2 386.0,86.6 386.5,83.2 387.0,80.0 387.5,76.7 388.0,74.3 388.5,72.9 389.0,72.3 389.5,72.8 390.0,74.0 390.5,75.8 391.0,78.4 391.5,81.2 392.0,84.2 392.5,87.5 393.0,90.9 393.5,94.3 394.0,97.7 394.5,101.5 395.0,105.7 395.5,111.0 396.0,116.8 396.5,121.7 397.0,125.7 397.5,129.5 398.0,132.8 398.5,135.7 399.0,137.9 399.5,139.5 400.0,140.9 400.5,142.1 401.0,143.1 401.5,144.2 402.0,145.4 402.5,146.7 403.0,148.1 403.5,149.4 404.0,150.7 404.5,152.0 405.0,153.1 405.5,154.2 406.0,155.2 406.5,156.2 407.0,157.2 407.5,158.1 408.0,159.0 408.5,159.8 409.0,160.6 409.5,161.1 410.0,161.6 410.5,162.0 411.0,162.4 411.5,162.7 412.0,163.0 412.5,163.3 413.0,163.5 413.5,163.7 414.0,163.9" fill="none" stroke="#ff0000" stroke-width="1.25" stroke-linejoin="round" />
<polyline points="359.0,165.1 359.5,165.1 360.0,165.1 360.5,165.1 361.0,165.1 361.5,165.1 362.0,165.1 362.5,165.1 363.0,165.1 363.5,165.0 364.0,165.0 364.5,165.0 365.0,165.0 365.5,164.9 366.0,164.9 366.5,164.9 367.0,164.8 367.5,164.8 368.0,164.7 368.5,164.7 369.0,164.6 369.5,164.5 370.0,164.4 370.5,164.3 371.0,164.2 371.5,164.1 372.0,163.9 372.5,163.7 373.0,163.5 373.5,163.3 374.0,163.1 374.5,162.8 375.0,162.5 375.5,162.0 376.0,161.1 376.5,159.9 377.0,158.4 377.5,156.7 378.0,154.8 378.5,152.1 379.0,148.9 379.5,145.7 380.0,142.6 380.5,139.1 381.0,134.3 381.5,128.4 382.0,122.4 382.5,116.5 383.0,110.7 383.5,105.7 384.0,101.6 384.5,98.1 385.0,94.7 385.5,91.3 386.0,87.8 386.5,84.5 387.0,81.3 387.5,78.1 388.0,75.7 388.5,74.3 389.0,73.7 389.5,74.2 390.0,75.4 390.5,77.1 391.0,79.7 391.5,82.5 392.0,85.4 392.5,88.6 393.0,92.0 393.5,95.3 394.0,98.8 394.5,102.5 395.0,106.6 395.5,111.9 396.0,117.5 396.5,122.4 397.0,126.3 397.5,130.0 398.0,133.3 398.5,136.1 399.0,138.3 399.5,139.9 400.0,141.3 400.5,142.4 401.0,143.5 401.5,144.5 402.0,145.7 402.5,147.0 403.0,148.3 403.5,149.6 404.0,150.9 404.5,152.2 405.0,153.3 405.5,154.4 406.0,155.4 406.5,156.4 407.0,157.3 407.5,158.2 408.0,159.1 408.5,159.9 409.0,160.6 409.5,161.2 410.0,161.6 410.5,162.1 411.0,162.4 411.5,162.8 412.0,163.0 412.5,163.3 413.0,163.5 413.5,163.7 414.0,163.9" fill="none" stroke="#008000" stroke-width="1.25" stroke-linejoin="round" />
<polyline points="359.0,165.2 359.5,165.1 360.0,165.1 360.5,165.1 361.0,165.1 361.5,165.1 362.0,165.1 362.5,165.1 363.0,165.1 363.5,165.1 364.0,165.0 364.5,165.0 365.0,165.0 365.5,165.0 366.0,164.9 366.5,164.9 367.0,164.8 367.5,164.8 368.0,164.7 368.5,164.7 369.0,164.6 369.5,164.5 370.0,164.5 370.5,164.4 371.0,164.2 371.5,164.1 372.0,164.0 372.5,163.8 373.0,163.6 373.5,163.4 374.0,163.2 374.5,162.9 375.0,162.6 375.5,162.2 376.0,161.4 376.5,160.2 377.0,158.8 377.5,157.2 378.0,155.4 378.5,152.8 379.0,149.8 379.5,146.8 380.0,143.9 380.5,140.6 381.0,136.1 381.5,130.4 382.0,124.8 382.5,119.2 383.0,113.8 383.5,109.0 384.0,105.2 384.5,101.8 385.0,98.6 385.5,95.4 386.0,92.1 386.5,89.0 387.0,86.0 387.5,82.9 388.0,80.7 388.5,79.4 389.0,78.8 389.5,79.3 390.0,80.4 390.5,82.0 391.0,84.5 391.5,87.1 392.0,89.9 392.5,92.9 393.0,96.1 393.5,99.2 394.0,102.5 394.5,106.0 395.0,109.9 395.5,114.8 396.0,120.2 396.5,124.8 397.0,128.5 397.5,132.0 398.0,135.1 398.5,137.7 399.0,139.8 399.5,141.3 400.0,142.6 400.5,143.7 401.0,144.7 401.5,145.7 402.0,146.8 402.5,148.0 403.0,149.3 403.5,150.5 404.0,151.7 404.5,152.9 405.0,154.0 405.5,155.0 406.0,155.9 406.5,156.9 407.0,157.8 407.5,158.6 408.0,159.4 408.5,160.2 409.0,160.9 409.5,161.4 410.0,161.8 410.5,162.2 411.0,162.6 411.5,162.9 412.0,163.2 412.5,163.4 413.0,163.6 413.5,163.8 414.0,164.0" fill="none" stroke="#0000ff" stroke-width="1.25" stroke-linejoin="round" />
<polyline points="419.5,165.1 420.0,165.1 420.5,165.1 421.0,165.0 421.5,165.0 422.0,165.0 422.5,165.0 423.0,164.9 423.5,164.9 424.0,164.8 424.5,164.8 425.0,164.7 425.5,164.7 426.0,164.6 426.5,164.5 427.0,164.4 427.5,164.3 428.0,164.2 428.5,164.1 429.0,164.0 429.5,163.8 430.0,163.2 430.5,162.5 431.0,161.6 431.5,160.5 432.0,159.3 432.5,157.7 433.0,155.9 433.5,153.5 434.0,151.0 434.5,148.5 435.0,146.0 435.5,143.4 436.0,140.7 436.5,138.1 437.0,135.7 437.5,133.5 438.0,131.4 438.5,129.0 439.0,126.3 439.5,123.6 440.0,121.6 440.5,120.1 441.0,118.8 441.5,118.3 442.0,118.8 442.5,120.0 443.0,121.6 443.5,124.2 444.0,127.8 444.5,131.1 445.0,133.9 445.5,136.5 446.0,138.9 446.5,141.3 447.0,143.5 447.5,145.6 448.0,147.4 448.5,148.9 449.0,150.3 449.5,151.6 450.0,152.8 450.5,153.9 451.0,155.0 451.5,156.0 452.0,156.9 452.5,157.9 453.0,158.9 453.5,159.7 454.0,160.5 454.5,161.2 455.0,161.8 455.5,162.4 456.0,162.9 456.5,163.3 457.0,163.5 457.5,163.7 458.0,163.9 458.5,164.1 459.0,164.2 459.5,164.3 460.0,164.4 460.5,164.5 461.0,164.6 461.5,164.7 462.0,164.7 462.5,164.8 463.0,164.8 463.5,164.9 464.0,164.9 464.5,164.9 465.0,165.0 465.5,165.0 466.0,165.0 466.5,165.0" fill="none" stroke="#ff0000" stroke-width="1.25" stroke-dasharray="4.2,3.2" stroke-linejoin="round" />
<polyline points="419.5,165.0 420.0,165.0 420.5,165.0 421.0,165.0 421.5,164.9 422.0,164.9 422.5,164.9 423.0,164.8 423.5,164.8 424.0,164.7 424.5,164.6 425.0,164.6 425.5,164.5 426.0,164.4 426.5,164.3 427.0,164.1 427.5,164.0 428.0,163.8 428.5,163.6 429.0,163.4 429.5,163.2 430.0,162.4 430.5,161.4 431.0,160.0 431.5,158.6 432.0,156.8 432.5,154.6 433.0,152.0 433.5,148.6 434.0,145.1 434.5,141.6 435.0,138.0 435.5,134.3 436.0,130.5 436.5,126.8 437.0,123.3 437.5,120.3 438.0,117.3 438.5,114.0 439.0,110.1 439.5,106.3 440.0,103.4 440.5,101.3 441.0,99.5 441.5,98.8 442.0,99.5 442.5,101.2 443.0,103.4 443.5,107.1 444.0,112.2 444.5,116.8 445.0,120.8 445.5,124.5 446.0,128.0 446.5,131.3 447.0,134.5 447.5,137.4 448.0,140.0 448.5,142.1 449.0,144.1 449.5,145.9 450.0,147.6 450.5,149.2 451.0,150.7 451.5,152.1 452.0,153.5 452.5,154.9 453.0,156.2 453.5,157.5 454.0,158.6 454.5,159.5 455.0,160.4 455.5,161.2 456.0,161.9 456.5,162.5 457.0,162.9 457.5,163.1 458.0,163.4 458.5,163.6 459.0,163.8 459.5,163.9 460.0,164.1 460.5,164.2 461.0,164.3 461.5,164.4 462.0,164.5 462.5,164.6 463.0,164.7 463.5,164.7 464.0,164.8 464.5,164.8 465.0,164.9 465.5,164.9 466.0,165.0 466.5,165.0" fill="none" stroke="#008000" stroke-width="1.25" stroke-dasharray="4.2,3.2" stroke-linejoin="round" />
<polyline points="419.5,165.0 420.0,165.0 420.5,164.9 421.0,164.9 421.5,164.8 422.0,164.8 422.5,164.7 423.0,164.7 423.5,164.6 424.0,164.5 424.5,164.5 425.0,164.4 425.5,164.2 426.0,164.1 426.5,164.0 427.0,163.8 427.5,163.6 428.0,163.4 428.5,163.2 429.0,162.9 429.5,162.6 430.0,161.8 430.5,160.6 431.0,159.0 431.5,157.3 432.0,155.4 432.5,153.0 433.0,150.0 433.5,145.8 434.0,139.5 434.5,132.2 435.0,124.9 435.5,116.8 436.0,108.8 436.5,102.3 437.0,96.9 437.5,93.0 438.0,89.9 438.5,87.3 439.0,85.2 439.5,83.2 440.0,81.5 440.5,80.3 441.0,79.3 441.5,78.8 442.0,79.1 442.5,79.9 443.0,81.1 443.5,83.5 444.0,86.9 444.5,90.9 445.0,96.5 445.5,102.1 446.0,106.9 446.5,111.4 447.0,115.7 447.5,119.7 448.0,123.5 448.5,127.0 449.0,130.3 449.5,133.4 450.0,136.2 450.5,138.6 451.0,140.9 451.5,143.0 452.0,145.0 452.5,146.8 453.0,148.5 453.5,150.1 454.0,151.6 454.5,153.0 455.0,154.3 455.5,155.5 456.0,156.6 456.5,157.6 457.0,158.6 457.5,159.5 458.0,160.3 458.5,161.1 459.0,161.7 459.5,162.1 460.0,162.5 460.5,162.8 461.0,163.1 461.5,163.3 462.0,163.6 462.5,163.8 463.0,163.9 463.5,164.1 464.0,164.2 464.5,164.3 465.0,164.4 465.5,164.5 466.0,164.6 466.5,164.7" fill="none" stroke="#0000ff" stroke-width="1.25" stroke-dasharray="4.2,3.2" stroke-linejoin="round" />
<polyline points="422.5,165.1 423.0,165.1 423.5,165.1 424.0,165.1 424.5,165.1 425.0,165.1 425.5,165.1 426.0,165.1 426.5,165.1 427.0,165.0 427.5,165.0 428.0,165.0 428.5,165.0 429.0,164.9 429.5,164.9 430.0,164.9 430.5,164.8 431.0,164.8 431.5,164.7 432.0,164.6 432.5,164.6 433.0,164.5 433.5,164.4 434.0,164.3 434.5,164.2 435.0,164.0 435.5,163.9 436.0,163.7 436.5,163.5 437.0,163.3 437.5,163.0 438.0,162.7 438.5,162.4 439.0,162.0 439.5,161.1 440.0,159.8 440.5,158.3 441.0,156.6 441.5,154.6 442.0,151.9 442.5,148.6 443.0,145.3 443.5,142.2 444.0,138.6 444.5,133.8 445.0,127.7 445.5,121.5 446.0,115.6 446.5,109.7 447.0,104.6 447.5,100.4 448.0,96.8 448.5,93.3 449.0,89.9 449.5,86.3 450.0,82.9 450.5,79.7 451.0,76.4 451.5,74.0 452.0,72.6 452.5,71.9 453.0,72.5 453.5,73.7 454.0,75.4 454.5,78.1 455.0,80.9 455.5,83.9 456.0,87.2 456.5,90.6 457.0,94.0 457.5,97.5 458.0,101.2 458.5,105.5 459.0,110.8 459.5,116.6 460.0,121.5 460.5,125.6 461.0,129.3 461.5,132.7 462.0,135.6 462.5,137.8 463.0,139.4 463.5,140.8 464.0,142.0 464.5,143.1 465.0,144.1 465.5,145.3 466.0,146.6 466.5,148.0 467.0,149.3 467.5,150.7 468.0,151.9 468.5,153.1 469.0,154.2 469.5,155.2 470.0,156.2 470.5,157.2 471.0,158.1 471.5,159.0 472.0,159.8 472.5,160.5 473.0,161.1 473.5,161.6 474.0,162.0 474.5,162.4 475.0,162.7 475.5,163.0 476.0,163.3 476.5,163.5 477.0,163.7 477.5,163.9" fill="none" stroke="#ff0000" stroke-width="1.25" stroke-linejoin="round" />
<polyline points="422.5,165.1 423.0,165.1 423.5,165.1 424.0,165.1 424.5,165.1 425.0,165.1 425.5,165.1 426.0,165.1 426.5,165.1 427.0,165.0 427.5,165.0 428.0,165.0 428.5,165.0 429.0,164.9 429.5,164.9 430.0,164.9 430.5,164.8 431.0,164.8 431.5,164.7 432.0,164.7 432.5,164.6 433.0,164.5 433.5,164.4 434.0,164.3 434.5,164.2 435.0,164.0 435.5,163.9 436.0,163.7 436.5,163.5 437.0,163.3 437.5,163.1 438.0,162.8 438.5,162.4 439.0,162.0 439.5,161.1 440.0,159.9 440.5,158.4 441.0,156.7 441.5,154.8 442.0,152.1 442.5,148.9 443.0,145.6 443.5,142.5 444.0,139.0 444.5,134.2 445.0,128.2 445.5,122.2 446.0,116.3 446.5,110.5 447.0,105.4 447.5,101.3 448.0,97.7 448.5,94.4 449.0,90.9 449.5,87.4 450.0,84.1 450.5,80.9 451.0,77.6 451.5,75.3 452.0,73.9 452.5,73.2 453.0,73.8 453.5,75.0 454.0,76.7 454.5,79.3 455.0,82.1 455.5,85.0 456.0,88.3 456.5,91.6 457.0,95.0 457.5,98.4 458.0,102.1 458.5,106.3 459.0,111.6 459.5,117.3 460.0,122.2 460.5,126.1 461.0,129.8 461.5,133.2 462.0,136.0 462.5,138.2 463.0,139.8 463.5,141.1 464.0,142.3 464.5,143.4 465.0,144.4 465.5,145.6 466.0,146.9 466.5,148.2 467.0,149.6 467.5,150.9 468.0,152.1 468.5,153.2 469.0,154.3 469.5,155.3 470.0,156.3 470.5,157.3 471.0,158.2 471.5,159.0 472.0,159.9 472.5,160.6 473.0,161.1 473.5,161.6 474.0,162.0 474.5,162.4 475.0,162.7 475.5,163.0 476.0,163.3 476.5,163.5 477.0,163.7 477.5,163.9" fill="none" stroke="#008000" stroke-width="1.25" stroke-linejoin="round" />
<polyline points="422.5,165.2 423.0,165.1 423.5,165.1 424.0,165.1 424.5,165.1 425.0,165.1 425.5,165.1 426.0,165.1 426.5,165.1 427.0,165.1 427.5,165.0 428.0,165.0 428.5,165.0 429.0,165.0 429.5,164.9 430.0,164.9 430.5,164.8 431.0,164.8 431.5,164.7 432.0,164.7 432.5,164.6 433.0,164.5 433.5,164.5 434.0,164.4 434.5,164.2 435.0,164.1 435.5,164.0 436.0,163.8 436.5,163.6 437.0,163.4 437.5,163.2 438.0,162.9 438.5,162.6 439.0,162.2 439.5,161.4 440.0,160.2 440.5,158.8 441.0,157.2 441.5,155.4 442.0,152.8 442.5,149.8 443.0,146.8 443.5,143.9 444.0,140.6 444.5,136.1 445.0,130.4 445.5,124.8 446.0,119.2 446.5,113.8 447.0,109.0 447.5,105.2 448.0,101.8 448.5,98.6 449.0,95.4 449.5,92.1 450.0,89.0 450.5,86.0 451.0,82.9 451.5,80.7 452.0,79.4 452.5,78.8 453.0,79.3 453.5,80.4 454.0,82.0 454.5,84.5 455.0,87.1 455.5,89.9 456.0,92.9 456.5,96.1 457.0,99.2 457.5,102.5 458.0,106.0 458.5,109.9 459.0,114.8 459.5,120.2 460.0,124.8 460.5,128.5 461.0,132.0 461.5,135.1 462.0,137.7 462.5,139.8 463.0,141.3 463.5,142.6 464.0,143.7 464.5,144.7 465.0,145.7 465.5,146.8 466.0,148.0 466.5,149.3 467.0,150.5 467.5,151.7 468.0,152.9 468.5,154.0 469.0,155.0 469.5,155.9 470.0,156.9 470.5,157.8 471.0,158.6 471.5,159.4 472.0,160.2 472.5,160.9 473.0,161.4 473.5,161.8 474.0,162.2 474.5,162.6 475.0,162.9 475.5,163.2 476.0,163.4 476.5,163.6 477.0,163.8 477.5,164.0" fill="none" stroke="#0000ff" stroke-width="1.25" stroke-linejoin="round" />
<polyline points="483.0,165.1 483.5,165.1 484.0,165.0 484.5,165.0 485.0,165.0 485.5,165.0 486.0,164.9 486.5,164.9 487.0,164.9 487.5,164.8 488.0,164.8 488.5,164.7 489.0,164.6 489.5,164.6 490.0,164.5 490.5,164.4 491.0,164.3 491.5,164.2 492.0,164.0 492.5,163.9 493.0,163.7 493.5,163.1 494.0,162.3 494.5,161.3 495.0,160.1 495.5,158.8 496.0,157.1 496.5,155.2 497.0,152.6 497.5,149.9 498.0,147.2 498.5,144.5 499.0,141.6 499.5,138.8 500.0,135.9 500.5,133.3 501.0,131.0 501.5,128.7 502.0,126.2 502.5,123.2 503.0,120.3 503.5,118.1 504.0,116.5 504.5,115.2 505.0,114.6 505.5,115.1 506.0,116.4 506.5,118.1 507.0,121.0 507.5,124.9 508.0,128.4 508.5,131.4 509.0,134.2 509.5,136.9 510.0,139.4 510.5,141.8 511.0,144.0 511.5,146.0 512.0,147.6 512.5,149.1 513.0,150.5 513.5,151.8 514.0,153.0 514.5,154.1 515.0,155.2 515.5,156.3 516.0,157.3 516.5,158.4 517.0,159.3 517.5,160.1 518.0,160.9 518.5,161.5 519.0,162.2 519.5,162.7 520.0,163.2 520.5,163.4 521.0,163.6 521.5,163.8 522.0,164.0 522.5,164.1 523.0,164.2 523.5,164.4 524.0,164.5 524.5,164.5 525.0,164.6 525.5,164.7 526.0,164.7 526.5,164.8 527.0,164.8 527.5,164.9 528.0,164.9 528.5,165.0 529.0,165.0 529.5,165.0 530.0,165.0" fill="none" stroke="#ff0000" stroke-width="1.25" stroke-dasharray="4.2,3.2" stroke-linejoin="round" />
<polyline points="483.0,165.0 483.5,165.0 484.0,165.0 484.5,165.0 485.0,164.9 485.5,164.9 486.0,164.8 486.5,164.8 487.0,164.7 487.5,164.7 488.0,164.6 488.5,164.5 489.0,164.4 489.5,164.3 490.0,164.2 490.5,164.1 491.0,164.0 491.5,163.8 492.0,163.6 492.5,163.4 493.0,163.1 493.5,162.3 494.0,161.2 494.5,159.9 495.0,158.3 495.5,156.5 496.0,154.2 496.5,151.6 497.0,148.1 497.5,144.5 498.0,140.8 498.5,137.1 499.0,133.2 499.5,129.3 500.0,125.5 500.5,122.0 501.0,118.8 501.5,115.7 502.0,112.3 502.5,108.3 503.0,104.3 503.5,101.4 504.0,99.1 504.5,97.3 505.0,96.6 505.5,97.3 506.0,99.1 506.5,101.4 507.0,105.2 507.5,110.5 508.0,115.2 508.5,119.3 509.0,123.2 509.5,126.8 510.0,130.2 510.5,133.5 511.0,136.5 511.5,139.1 512.0,141.4 512.5,143.4 513.0,145.3 513.5,147.0 514.0,148.7 514.5,150.2 515.0,151.7 515.5,153.1 516.0,154.5 516.5,155.9 517.0,157.2 517.5,158.3 518.0,159.3 518.5,160.2 519.0,161.1 519.5,161.8 520.0,162.5 520.5,162.8 521.0,163.1 521.5,163.3 522.0,163.5 522.5,163.7 523.0,163.9 523.5,164.1 524.0,164.2 524.5,164.3 525.0,164.4 525.5,164.5 526.0,164.6 526.5,164.7 527.0,164.7 527.5,164.8 528.0,164.8 528.5,164.9 529.0,164.9 529.5,164.9 530.0,165.0" fill="none" stroke="#008000" stroke-width="1.25" stroke-dasharray="4.2,3.2" stroke-linejoin="round" />
<polyline points="483.0,165.0 483.5,164.9 484.0,164.9 484.5,164.9 485.0,164.8 485.5,164.8 486.0,164.7 486.5,164.7 487.0,164.6 487.5,164.5 488.0,164.4 488.5,164.3 489.0,164.2 489.5,164.1 490.0,163.9 490.5,163.8 491.0,163.6 491.5,163.3 492.0,163.1 492.5,162.8 493.0,162.5 493.5,161.6 494.0,160.3 494.5,158.8 495.0,156.9 495.5,154.9 496.0,152.4 496.5,149.3 497.0,144.9 497.5,138.4 498.0,130.7 498.5,123.0 499.0,114.7 499.5,106.3 500.0,99.5 500.5,93.8 501.0,89.7 501.5,86.5 502.0,83.9 502.5,81.6 503.0,79.5 503.5,77.8 504.0,76.5 504.5,75.4 505.0,74.9 505.5,75.2 506.0,76.1 506.5,77.3 507.0,79.8 507.5,83.4 508.0,87.6 508.5,93.4 509.0,99.3 509.5,104.3 510.0,109.0 510.5,113.5 511.0,117.7 511.5,121.6 512.0,125.3 512.5,128.8 513.0,132.0 513.5,134.9 514.0,137.4 514.5,139.8 515.0,142.1 515.5,144.1 516.0,146.0 516.5,147.8 517.0,149.4 517.5,151.0 518.0,152.4 518.5,153.8 519.0,155.0 519.5,156.2 520.0,157.2 520.5,158.3 521.0,159.2 521.5,160.1 522.0,160.9 522.5,161.6 523.0,162.0 523.5,162.4 524.0,162.7 524.5,163.0 525.0,163.3 525.5,163.5 526.0,163.7 526.5,163.9 527.0,164.0 527.5,164.2 528.0,164.3 528.5,164.4 529.0,164.5 529.5,164.6 530.0,164.6" fill="none" stroke="#0000ff" stroke-width="1.25" stroke-dasharray="4.2,3.2" stroke-linejoin="round" />
<polyline points="485.4,165.2 485.9,165.2 486.4,165.2 486.9,165.2 487.4,165.2 487.9,165.2 488.4,165.2 488.9,165.2 489.4,165.2 489.9,165.2 490.4,165.2 490.9,165.2 491.4,165.2 491.9,165.1 492.4,165.1 492.9,165.1 493.4,165.1 493.9,165.1 494.4,165.1 494.9,165.1 495.4,165.1 495.9,165.0 496.4,165.0 496.9,165.0 497.4,165.0 497.9,165.0 498.4,164.9 498.9,164.9 499.4,164.8 499.9,164.8 500.4,164.7 500.9,164.7 501.4,164.6 501.9,164.5 502.4,164.4 502.9,164.3 503.4,164.2 503.9,164.1 504.4,163.9 504.9,163.8 505.4,163.6 505.9,163.4 506.4,163.1 506.9,161.6 507.4,158.2 507.9,153.8 508.4,146.4 508.9,129.2 509.4,112.5 509.9,100.5 510.4,92.8 510.9,86.5 511.4,81.3 511.9,76.7 512.4,72.5 512.9,68.8 513.4,66.0 513.9,64.2 514.4,62.5 514.9,61.4 515.4,60.9 515.9,61.4 516.4,62.6 516.9,64.2 517.4,66.0 517.9,68.2 518.4,71.0 518.9,74.4 519.4,78.2 519.9,83.1 520.4,88.9 520.9,94.9 521.4,100.5 521.9,106.0 522.4,111.5 522.9,116.7 523.4,121.4 523.9,125.6 524.4,129.5 524.9,133.0 525.4,136.0 525.9,138.6 526.4,140.8 526.9,142.9 527.4,144.8 527.9,146.8 528.4,148.8 528.9,151.0 529.4,153.2 529.9,155.2 530.4,156.9 530.9,158.2 531.4,159.5 531.9,160.7 532.4,161.7 532.9,162.5 533.4,163.1 533.9,163.4 534.4,163.6 534.9,163.8 535.4,163.9 535.9,164.1 536.4,164.2 536.9,164.3 537.4,164.4 537.9,164.5 538.4,164.6 538.9,164.7 539.4,164.7 539.9,164.8 540.4,164.8" fill="none" stroke="#ff0000" stroke-width="1.25" stroke-linejoin="round" />
<polyline points="485.4,165.2 485.9,165.2 486.4,165.2 486.9,165.2 487.4,165.2 487.9,165.2 488.4,165.2 488.9,165.2 489.4,165.2 489.9,165.2 490.4,165.2 490.9,165.2 491.4,165.2 491.9,165.1 492.4,165.1 492.9,165.1 493.4,165.1 493.9,165.1 494.4,165.1 494.9,165.1 495.4,165.1 495.9,165.1 496.4,165.0 496.9,165.0 497.4,165.0 497.9,165.0 498.4,164.9 498.9,164.9 499.4,164.8 499.9,164.8 500.4,164.7 500.9,164.7 501.4,164.6 501.9,164.5 502.4,164.4 502.9,164.3 503.4,164.2 503.9,164.1 504.4,164.0 504.9,163.8 505.4,163.6 505.9,163.4 506.4,163.2 506.9,161.7 507.4,158.3 507.9,154.1 508.4,146.8 508.9,130.0 509.4,113.6 509.9,101.9 510.4,94.3 510.9,88.2 511.4,83.1 511.9,78.6 512.4,74.4 512.9,70.8 513.4,68.1 513.9,66.3 514.4,64.7 514.9,63.6 515.4,63.1 515.9,63.6 516.4,64.8 516.9,66.3 517.4,68.1 517.9,70.2 518.4,73.0 518.9,76.3 519.4,80.0 519.9,84.9 520.4,90.5 520.9,96.4 521.4,101.9 521.9,107.2 522.4,112.6 522.9,117.7 523.4,122.3 523.9,126.4 524.4,130.2 524.9,133.7 525.4,136.6 525.9,139.1 526.4,141.3 526.9,143.3 527.4,145.2 527.9,147.2 528.4,149.2 528.9,151.3 529.4,153.5 529.9,155.4 530.4,157.0 530.9,158.4 531.4,159.6 531.9,160.8 532.4,161.8 532.9,162.6 533.4,163.2 533.9,163.4 534.4,163.6 534.9,163.8 535.4,164.0 535.9,164.1 536.4,164.2 536.9,164.3 537.4,164.4 537.9,164.5 538.4,164.6 538.9,164.7 539.4,164.7 539.9,164.8 540.4,164.8" fill="none" stroke="#008000" stroke-width="1.25" stroke-linejoin="round" />
<polyline points="485.4,165.2 485.9,165.2 486.4,165.2 486.9,165.2 487.4,165.2 487.9,165.2 488.4,165.2 488.9,165.2 489.4,165.2 489.9,165.2 490.4,165.2 490.9,165.2 491.4,165.2 491.9,165.2 492.4,165.1 492.9,165.1 493.4,165.1 493.9,165.1 494.4,165.1 494.9,165.1 495.4,165.1 495.9,165.1 496.4,165.0 496.9,165.0 497.4,165.0 497.9,165.0 498.4,164.9 498.9,164.9 499.4,164.9 499.9,164.8 500.4,164.8 500.9,164.7 501.4,164.7 501.9,164.6 502.4,164.5 502.9,164.4 503.4,164.3 503.9,164.2 504.4,164.1 504.9,163.9 505.4,163.8 505.9,163.6 506.4,163.4 506.9,162.0 507.4,159.0 507.9,155.1 508.4,148.6 508.9,133.3 509.4,118.5 509.9,107.9 510.4,101.0 510.9,95.5 511.4,90.8 511.9,86.8 512.4,83.0 512.9,79.7 513.4,77.3 513.9,75.7 514.4,74.2 514.9,73.2 515.4,72.8 515.9,73.2 516.4,74.3 516.9,75.7 517.4,77.3 517.9,79.3 518.4,81.8 518.9,84.7 519.4,88.1 519.9,92.5 520.4,97.6 520.9,102.9 521.4,107.9 521.9,112.7 522.4,117.6 522.9,122.2 523.4,126.4 523.9,130.1 524.4,133.5 524.9,136.7 525.4,139.3 525.9,141.6 526.4,143.6 526.9,145.4 527.4,147.1 527.9,148.9 528.4,150.7 528.9,152.7 529.4,154.6 529.9,156.4 530.4,157.8 530.9,159.0 531.4,160.2 531.9,161.2 532.4,162.1 532.9,162.8 533.4,163.4 533.9,163.6 534.4,163.8 534.9,163.9 535.4,164.1 535.9,164.2 536.4,164.3 536.9,164.4 537.4,164.5 537.9,164.6 538.4,164.7 538.9,164.7 539.4,164.8 539.9,164.8 540.4,164.9" fill="none" stroke="#0000ff" stroke-width="1.25" stroke-linejoin="round" />
</g>
<rect x="227" y="6" width="303.3" height="141.6" fill="none" stroke="#000000" stroke-width="1.5"/>
<line x1="227" y1="138.79999999999998" x2="231.5" y2="138.79999999999998" stroke="#000000" stroke-width="1.2"/>
<line x1="227" y1="112.39999999999999" x2="231.5" y2="112.39999999999999" stroke="#000000" stroke-width="1.2"/>
<line x1="227" y1="85.99999999999999" x2="231.5" y2="85.99999999999999" stroke="#000000" stroke-width="1.2"/>
<line x1="227" y1="59.599999999999994" x2="231.5" y2="59.599999999999994" stroke="#000000" stroke-width="1.2"/>
<line x1="227" y1="33.19999999999999" x2="231.5" y2="33.19999999999999" stroke="#000000" stroke-width="1.2"/>
<line x1="227" y1="6.799999999999983" x2="231.5" y2="6.799999999999983" stroke="#000000" stroke-width="1.2"/>
<line x1="227" y1="125.6" x2="229.5" y2="125.6" stroke="#000000" stroke-width="1.2"/>
<line x1="227" y1="99.19999999999999" x2="229.5" y2="99.19999999999999" stroke="#000000" stroke-width="1.2"/>
<line x1="227" y1="72.79999999999998" x2="229.5" y2="72.79999999999998" stroke="#000000" stroke-width="1.2"/>
<line x1="227" y1="46.39999999999999" x2="229.5" y2="46.39999999999999" stroke="#000000" stroke-width="1.2"/>
<line x1="227" y1="19.999999999999986" x2="229.5" y2="19.999999999999986" stroke="#000000" stroke-width="1.2"/>
<line x1="264.5" y1="147.6" x2="264.5" y2="143.1" stroke="#000000" stroke-width="1.2"/>
<line x1="339.4" y1="147.6" x2="339.4" y2="143.1" stroke="#000000" stroke-width="1.2"/>
<line x1="414.29999999999995" y1="147.6" x2="414.29999999999995" y2="143.1" stroke="#000000" stroke-width="1.2"/>
<line x1="489.2" y1="147.6" x2="489.2" y2="143.1" stroke="#000000" stroke-width="1.2"/>
<line x1="301.95" y1="147.6" x2="301.95" y2="145.1" stroke="#000000" stroke-width="1.2"/>
<line x1="376.85" y1="147.6" x2="376.85" y2="145.1" stroke="#000000" stroke-width="1.2"/>
<line x1="451.75" y1="147.6" x2="451.75" y2="145.1" stroke="#000000" stroke-width="1.2"/>
<clipPath id="cc"><rect x="227" y="156.2" width="303" height="141.0"/></clipPath>
<g clip-path="url(#cc)">
<polyline points="224.8,311.1 225.3,310.9 225.8,310.7 226.3,310.4 226.8,310.1 227.3,309.9 227.8,309.6 228.3,309.2 228.8,308.9 229.3,308.5 229.8,308.1 230.3,307.7 230.8,307.2 231.3,306.8 231.8,306.3 232.3,305.8 232.8,305.3 233.3,304.8 233.8,304.2 234.3,303.6 234.8,302.9 235.3,302.3 235.8,301.7 236.3,301.1 236.8,300.5 237.3,299.8 237.8,299.2 238.3,298.4 238.8,297.6 239.3,296.6 239.8,295.5 240.3,294.2 240.8,292.8 241.3,291.3 241.8,289.7 242.3,288.2 242.8,286.6 243.3,284.9 243.8,283.2 244.3,281.6 244.8,280.0 245.3,278.5 245.8,277.3 246.3,276.3 246.8,275.7 247.3,276.3 247.8,277.5 248.3,278.8 248.8,280.4 249.3,282.0 249.8,283.5 250.3,284.7 250.8,285.6 251.3,286.4 251.8,287.2 252.3,288.0 252.8,289.0 253.3,290.4 253.8,292.3 254.3,294.6 254.8,297.1 255.3,299.8 255.8,303.1 256.3,308.8 256.8,314.8 257.3,314.8 257.8,314.8 258.3,314.8 258.8,314.8 259.3,314.8 259.8,314.8 260.3,314.8 260.8,314.8 261.3,314.8 261.8,314.8 262.3,314.8 262.8,314.8 263.3,314.8 263.8,314.8 264.3,314.8 264.8,314.8 265.3,314.8 265.8,314.8 266.3,314.8 266.8,314.8 267.3,314.8 267.8,314.8 268.3,314.8 268.8,314.8 269.3,314.8 269.8,314.8 270.3,314.8 270.8,314.8 271.3,314.8 271.8,314.8" fill="none" stroke="#ff0000" stroke-width="1.25" stroke-dasharray="4.2,3.2" stroke-linejoin="round" />
<polyline points="224.8,309.6 225.3,309.3 225.8,309.0 226.3,308.6 226.8,308.2 227.3,307.8 227.8,307.4 228.3,306.9 228.8,306.4 229.3,305.9 229.8,305.3 230.3,304.8 230.8,304.1 231.3,303.5 231.8,302.8 232.3,302.2 232.8,301.5 233.3,300.7 233.8,299.9 234.3,299.0 234.8,298.1 235.3,297.2 235.8,296.4 236.3,295.5 236.8,294.6 237.3,293.8 237.8,292.8 238.3,291.7 238.8,290.6 239.3,289.2 239.8,287.6 240.3,285.8 240.8,283.8 241.3,281.7 241.8,279.6 242.3,277.4 242.8,275.2 243.3,272.7 243.8,270.3 244.3,268.1 244.8,265.9 245.3,263.8 245.8,262.0 246.3,260.6 246.8,259.8 247.3,260.7 247.8,262.3 248.3,264.2 248.8,266.4 249.3,268.7 249.8,270.9 250.3,272.5 250.8,273.8 251.3,274.9 251.8,276.0 252.3,277.1 252.8,278.6 253.3,280.5 253.8,283.2 254.3,286.4 254.8,290.0 255.3,293.7 255.8,298.4 256.3,306.3 256.8,314.8 257.3,314.8 257.8,314.8 258.3,314.8 258.8,314.8 259.3,314.8 259.8,314.8 260.3,314.8 260.8,314.8 261.3,314.8 261.8,314.8 262.3,314.8 262.8,314.8 263.3,314.8 263.8,314.8 264.3,314.8 264.8,314.8 265.3,314.8 265.8,314.8 266.3,314.8 266.8,314.8 267.3,314.8 267.8,314.8 268.3,314.8 268.8,314.8 269.3,314.8 269.8,314.8 270.3,314.8 270.8,314.8 271.3,314.8 271.8,314.8" fill="none" stroke="#008000" stroke-width="1.25" stroke-dasharray="4.2,3.2" stroke-linejoin="round" />
<polyline points="224.8,307.6 225.3,307.1 225.8,306.6 226.3,306.1 226.8,305.6 227.3,305.1 227.8,304.5 228.3,303.8 228.8,303.1 229.3,302.3 229.8,301.6 230.3,300.7 230.8,299.9 231.3,299.0 231.8,298.1 232.3,297.1 232.8,296.1 233.3,295.0 233.8,293.9 234.3,292.7 234.8,291.4 235.3,290.2 235.8,289.0 236.3,287.8 236.8,286.6 237.3,285.3 237.8,284.0 238.3,282.5 238.8,280.9 239.3,279.0 239.8,276.8 240.3,274.2 240.8,271.4 241.3,268.5 241.8,265.5 242.3,262.5 242.8,259.3 243.3,255.9 243.8,252.5 244.3,249.4 244.8,246.4 245.3,243.4 245.8,240.9 246.3,239.0 246.8,237.8 247.3,239.1 247.8,241.4 248.3,244.0 248.8,247.1 249.3,250.3 249.8,253.3 250.3,255.6 250.8,257.4 251.3,259.0 251.8,260.4 252.3,262.1 252.8,264.1 253.3,266.8 253.8,270.6 254.3,275.0 254.8,280.0 255.3,285.2 255.8,291.8 256.3,302.9 256.8,314.8 257.3,314.8 257.8,314.8 258.3,314.8 258.8,314.8 259.3,314.8 259.8,314.8 260.3,314.8 260.8,314.8 261.3,314.8 261.8,314.8 262.3,314.8 262.8,314.8 263.3,314.8 263.8,314.8 264.3,314.8 264.8,314.8 265.3,314.8 265.8,314.8 266.3,314.8 266.8,314.8 267.3,314.8 267.8,314.8 268.3,314.8 268.8,314.8 269.3,314.8 269.8,314.8 270.3,314.8 270.8,314.8 271.3,314.8 271.8,314.8" fill="none" stroke="#0000ff" stroke-width="1.25" stroke-dasharray="4.2,3.2" stroke-linejoin="round" />
<polyline points="227.7,308.3 228.2,307.7 228.7,307.0 229.2,306.4 229.7,305.8 230.2,305.2 230.7,304.7 231.2,304.1 231.7,303.6 232.2,303.1 232.7,302.6 233.2,302.1 233.7,301.6 234.2,301.2 234.7,300.8 235.2,300.4 235.7,300.0 236.2,299.6 236.7,299.2 237.2,298.9 237.7,298.5 238.2,298.1 238.7,297.7 239.2,297.2 239.7,296.8 240.2,296.3 240.7,295.8 241.2,295.3 241.7,294.7 242.2,294.2 242.7,293.6 243.2,293.0 243.7,292.4 244.2,291.7 244.7,291.0 245.2,290.3 245.7,289.5 246.2,288.7 246.7,287.7 247.2,286.8 247.7,285.7 248.2,284.6 248.7,283.4 249.2,282.1 249.7,280.8 250.2,279.3 250.7,277.7 251.2,275.8 251.7,273.7 252.2,271.2 252.7,267.5 253.2,263.2 253.7,259.2 254.2,255.7 254.7,252.3 255.2,248.9 255.7,245.3 256.2,240.6 256.7,236.4 257.2,234.1 257.7,233.0 258.2,233.8 258.7,235.4 259.2,237.3 259.7,239.6 260.2,242.1 260.7,244.4 261.2,246.6 261.7,248.7 262.2,250.8 262.7,252.9 263.2,255.2 263.7,257.8 264.2,260.6 264.7,263.6 265.2,267.0 265.7,270.5 266.2,274.4 266.7,279.0 267.2,285.1 267.7,290.5 268.2,294.9 268.7,304.2 269.2,314.8 269.7,314.8 270.2,314.8 270.7,314.8 271.2,314.8 271.7,314.8 272.2,314.8 272.7,314.8 273.2,314.8 273.7,314.8 274.2,314.8 274.7,314.8 275.2,314.8 275.7,314.8 276.2,314.8 276.7,314.8 277.2,314.8 277.7,314.8 278.2,314.8 278.7,314.8 279.2,314.8 279.7,314.8 280.2,314.8 280.7,314.8 281.2,314.8 281.7,314.8 282.2,314.8 282.7,314.8" fill="none" stroke="#ff0000" stroke-width="1.25" stroke-linejoin="round" />
<polyline points="227.7,308.4 228.2,307.8 228.7,307.2 229.2,306.6 229.7,306.0 230.2,305.4 230.7,304.9 231.2,304.3 231.7,303.8 232.2,303.3 232.7,302.8 233.2,302.3 233.7,301.9 234.2,301.5 234.7,301.1 235.2,300.7 235.7,300.3 236.2,299.9 236.7,299.5 237.2,299.2 237.7,298.8 238.2,298.4 238.7,298.0 239.2,297.6 239.7,297.1 240.2,296.7 240.7,296.2 241.2,295.7 241.7,295.1 242.2,294.6 242.7,294.0 243.2,293.4 243.7,292.8 244.2,292.2 244.7,291.5 245.2,290.8 245.7,290.0 246.2,289.2 246.7,288.3 247.2,287.3 247.7,286.3 248.2,285.2 248.7,284.0 249.2,282.8 249.7,281.5 250.2,280.0 250.7,278.4 251.2,276.6 251.7,274.5 252.2,272.0 252.7,268.4 253.2,264.2 253.7,260.3 254.2,256.8 254.7,253.5 255.2,250.2 255.7,246.6 256.2,242.1 256.7,237.9 257.2,235.7 257.7,234.6 258.2,235.4 258.7,237.0 259.2,238.8 259.7,241.1 260.2,243.5 260.7,245.8 261.2,247.9 261.7,250.0 262.2,252.0 262.7,254.1 263.2,256.4 263.7,258.9 264.2,261.6 264.7,264.6 265.2,267.9 265.7,271.4 266.2,275.2 266.7,279.7 267.2,285.7 267.7,291.0 268.2,295.3 268.7,304.4 269.2,314.8 269.7,314.8 270.2,314.8 270.7,314.8 271.2,314.8 271.7,314.8 272.2,314.8 272.7,314.8 273.2,314.8 273.7,314.8 274.2,314.8 274.7,314.8 275.2,314.8 275.7,314.8 276.2,314.8 276.7,314.8 277.2,314.8 277.7,314.8 278.2,314.8 278.7,314.8 279.2,314.8 279.7,314.8 280.2,314.8 280.7,314.8 281.2,314.8 281.7,314.8 282.2,314.8 282.7,314.8" fill="none" stroke="#008000" stroke-width="1.25" stroke-linejoin="round" />
<polyline points="227.7,308.7 228.2,308.1 228.7,307.5 229.2,306.9 229.7,306.4 230.2,305.8 230.7,305.3 231.2,304.8 231.7,304.3 232.2,303.8 232.7,303.3 233.2,302.8 233.7,302.4 234.2,302.0 234.7,301.6 235.2,301.3 235.7,300.9 236.2,300.5 236.7,300.2 237.2,299.8 237.7,299.4 238.2,299.1 238.7,298.7 239.2,298.3 239.7,297.8 240.2,297.4 240.7,296.9 241.2,296.4 241.7,295.9 242.2,295.4 242.7,294.9 243.2,294.3 243.7,293.7 244.2,293.1 244.7,292.4 245.2,291.7 245.7,291.0 246.2,290.2 246.7,289.4 247.2,288.4 247.7,287.5 248.2,286.4 248.7,285.3 249.2,284.1 249.7,282.8 250.2,281.4 250.7,279.9 251.2,278.1 251.7,276.1 252.2,273.7 252.7,270.3 253.2,266.3 253.7,262.5 254.2,259.2 254.7,256.0 255.2,252.8 255.7,249.4 256.2,245.0 256.7,241.0 257.2,238.9 257.7,237.8 258.2,238.6 258.7,240.2 259.2,241.9 259.7,244.1 260.2,246.4 260.7,248.6 261.2,250.7 261.7,252.6 262.2,254.6 262.7,256.6 263.2,258.8 263.7,261.2 264.2,263.8 264.7,266.7 265.2,269.8 265.7,273.1 266.2,276.8 266.7,281.2 267.2,286.9 267.7,291.9 268.2,296.1 268.7,304.9 269.2,314.8 269.7,314.8 270.2,314.8 270.7,314.8 271.2,314.8 271.7,314.8 272.2,314.8 272.7,314.8 273.2,314.8 273.7,314.8 274.2,314.8 274.7,314.8 275.2,314.8 275.7,314.8 276.2,314.8 276.7,314.8 277.2,314.8 277.7,314.8 278.2,314.8 278.7,314.8 279.2,314.8 279.7,314.8 280.2,314.8 280.7,314.8 281.2,314.8 281.7,314.8 282.2,314.8 282.7,314.8" fill="none" stroke="#0000ff" stroke-width="1.25" stroke-linejoin="round" />
<polyline points="288.8,311.1 289.3,310.8 289.8,310.6 290.3,310.3 290.8,310.1 291.3,309.8 291.8,309.5 292.3,309.1 292.8,308.8 293.3,308.4 293.8,308.0 294.3,307.5 294.8,307.1 295.3,306.6 295.8,306.2 296.3,305.7 296.8,305.2 297.3,304.6 297.8,304.0 298.3,303.4 298.8,302.7 299.3,302.1 299.8,301.5 300.3,300.8 300.8,300.2 301.3,299.6 301.8,298.9 302.3,298.1 302.8,297.3 303.3,296.3 303.8,295.1 304.3,293.8 304.8,292.4 305.3,290.8 305.8,289.3 306.3,287.7 306.8,286.1 307.3,284.3 307.8,282.6 308.3,281.0 308.8,279.4 309.3,277.9 309.8,276.6 310.3,275.6 310.8,275.0 311.3,275.6 311.8,276.8 312.3,278.2 312.8,279.8 313.3,281.4 313.8,283.0 314.3,284.2 314.8,285.1 315.3,285.9 315.8,286.7 316.3,287.5 316.8,288.6 317.3,290.0 317.8,291.9 318.3,294.2 318.8,296.8 319.3,299.5 319.8,302.9 320.3,308.7 320.8,314.8 321.3,314.8 321.8,314.8 322.3,314.8 322.8,314.8 323.3,314.8 323.8,314.8 324.3,314.8 324.8,314.8 325.3,314.8 325.8,314.8 326.3,314.8 326.8,314.8 327.3,314.8 327.8,314.8 328.3,314.8 328.8,314.8 329.3,314.8 329.8,314.8 330.3,314.8 330.8,314.8 331.3,314.8 331.8,314.8 332.3,314.8 332.8,314.8 333.3,314.8 333.8,314.8 334.3,314.8 334.8,314.8 335.3,314.8 335.8,314.8" fill="none" stroke="#ff0000" stroke-width="1.25" stroke-dasharray="4.2,3.2" stroke-linejoin="round" />
<polyline points="288.8,309.4 289.3,309.1 289.8,308.7 290.3,308.3 290.8,308.0 291.3,307.6 291.8,307.1 292.3,306.6 292.8,306.1 293.3,305.5 293.8,304.9 294.3,304.3 294.8,303.7 295.3,303.0 295.8,302.3 296.3,301.7 296.8,300.9 297.3,300.1 297.8,299.2 298.3,298.3 298.8,297.4 299.3,296.5 299.8,295.6 300.3,294.7 300.8,293.8 301.3,292.9 301.8,291.9 302.3,290.8 302.8,289.6 303.3,288.2 303.8,286.5 304.3,284.6 304.8,282.5 305.3,280.3 305.8,278.1 306.3,275.9 306.8,273.5 307.3,271.0 307.8,268.5 308.3,266.1 308.8,263.9 309.3,261.7 309.8,259.8 310.3,258.4 310.8,257.5 311.3,258.5 311.8,260.1 312.3,262.1 312.8,264.4 313.3,266.8 313.8,269.0 314.3,270.8 314.8,272.1 315.3,273.2 315.8,274.3 316.3,275.6 316.8,277.1 317.3,279.1 317.8,281.9 318.3,285.2 318.8,288.9 319.3,292.8 319.8,297.7 320.3,306.0 320.8,314.8 321.3,314.8 321.8,314.8 322.3,314.8 322.8,314.8 323.3,314.8 323.8,314.8 324.3,314.8 324.8,314.8 325.3,314.8 325.8,314.8 326.3,314.8 326.8,314.8 327.3,314.8 327.8,314.8 328.3,314.8 328.8,314.8 329.3,314.8 329.8,314.8 330.3,314.8 330.8,314.8 331.3,314.8 331.8,314.8 332.3,314.8 332.8,314.8 333.3,314.8 333.8,314.8 334.3,314.8 334.8,314.8 335.3,314.8 335.8,314.8" fill="none" stroke="#008000" stroke-width="1.25" stroke-dasharray="4.2,3.2" stroke-linejoin="round" />
<polyline points="288.8,307.4 289.3,306.9 289.8,306.4 290.3,305.9 290.8,305.3 291.3,304.8 291.8,304.2 292.3,303.5 292.8,302.8 293.3,302.0 293.8,301.2 294.3,300.3 294.8,299.5 295.3,298.5 295.8,297.6 296.3,296.6 296.8,295.6 297.3,294.5 297.8,293.3 298.3,292.1 298.8,290.8 299.3,289.5 299.8,288.3 300.3,287.0 300.8,285.8 301.3,284.5 301.8,283.1 302.3,281.6 302.8,280.0 303.3,278.0 303.8,275.7 304.3,273.1 304.8,270.2 305.3,267.2 305.8,264.1 306.3,261.0 306.8,257.8 307.3,254.3 307.8,250.8 308.3,247.6 308.8,244.5 309.3,241.5 309.8,238.9 310.3,236.9 310.8,235.7 311.3,237.0 311.8,239.3 312.3,242.0 312.8,245.2 313.3,248.6 313.8,251.6 314.3,254.0 314.8,255.8 315.3,257.4 315.8,258.9 316.3,260.6 316.8,262.7 317.3,265.5 317.8,269.3 318.3,273.9 318.8,279.1 319.3,284.4 319.8,291.1 320.3,302.6 320.8,314.8 321.3,314.8 321.8,314.8 322.3,314.8 322.8,314.8 323.3,314.8 323.8,314.8 324.3,314.8 324.8,314.8 325.3,314.8 325.8,314.8 326.3,314.8 326.8,314.8 327.3,314.8 327.8,314.8 328.3,314.8 328.8,314.8 329.3,314.8 329.8,314.8 330.3,314.8 330.8,314.8 331.3,314.8 331.8,314.8 332.3,314.8 332.8,314.8 333.3,314.8 333.8,314.8 334.3,314.8 334.8,314.8 335.3,314.8 335.8,314.8" fill="none" stroke="#0000ff" stroke-width="1.25" stroke-dasharray="4.2,3.2" stroke-linejoin="round" />
<polyline points="292.6,308.2 293.1,307.5 293.6,306.9 294.1,306.3 294.6,305.7 295.1,305.1 295.6,304.5 296.1,303.9 296.6,303.4 297.1,302.9 297.6,302.4 298.1,301.9 298.6,301.4 299.1,301.0 299.6,300.6 300.1,300.1 300.6,299.7 301.1,299.4 301.6,299.0 302.1,298.6 302.6,298.2 303.1,297.8 303.6,297.4 304.1,296.9 304.6,296.5 305.1,296.0 305.6,295.5 306.1,294.9 306.6,294.4 307.1,293.8 307.6,293.3 308.1,292.6 308.6,292.0 309.1,291.3 309.6,290.6 310.1,289.9 310.6,289.1 311.1,288.2 311.6,287.3 312.1,286.3 312.6,285.2 313.1,284.1 313.6,282.9 314.1,281.6 314.6,280.2 315.1,278.7 315.6,277.0 316.1,275.1 316.6,273.0 317.1,270.4 317.6,266.7 318.1,262.3 318.6,258.2 319.1,254.7 319.6,251.3 320.1,247.8 320.6,244.1 321.1,239.3 321.6,235.0 322.1,232.7 322.6,231.6 323.1,232.4 323.6,234.1 324.1,236.0 324.6,238.3 325.1,240.8 325.6,243.2 326.1,245.4 326.6,247.5 327.1,249.7 327.6,251.9 328.1,254.2 328.6,256.8 329.1,259.6 329.6,262.8 330.1,266.1 330.6,269.7 331.1,273.7 331.6,278.4 332.1,284.6 332.6,290.1 333.1,294.5 333.6,304.0 334.1,314.8 334.6,314.8 335.1,314.8 335.6,314.8 336.1,314.8 336.6,314.8 337.1,314.8 337.6,314.8 338.1,314.8 338.6,314.8 339.1,314.8 339.6,314.8 340.1,314.8 340.6,314.8 341.1,314.8 341.6,314.8 342.1,314.8 342.6,314.8 343.1,314.8 343.6,314.8 344.1,314.8 344.6,314.8 345.1,314.8 345.6,314.8 346.1,314.8 346.6,314.8 347.1,314.8 347.6,314.8" fill="none" stroke="#ff0000" stroke-width="1.25" stroke-linejoin="round" />
<polyline points="292.6,308.3 293.1,307.7 293.6,307.1 294.1,306.5 294.6,305.9 295.1,305.3 295.6,304.7 296.1,304.2 296.6,303.6 297.1,303.1 297.6,302.6 298.1,302.1 298.6,301.7 299.1,301.2 299.6,300.8 300.1,300.4 300.6,300.1 301.1,299.7 301.6,299.3 302.1,298.9 302.6,298.5 303.1,298.1 303.6,297.7 304.1,297.3 304.6,296.8 305.1,296.4 305.6,295.9 306.1,295.3 306.6,294.8 307.1,294.3 307.6,293.7 308.1,293.1 308.6,292.5 309.1,291.8 309.6,291.1 310.1,290.4 310.6,289.6 311.1,288.7 311.6,287.8 312.1,286.9 312.6,285.8 313.1,284.7 313.6,283.5 314.1,282.3 314.6,280.9 315.1,279.4 315.6,277.8 316.1,275.9 316.6,273.8 317.1,271.3 317.6,267.6 318.1,263.4 318.6,259.4 319.1,255.9 319.6,252.5 320.1,249.1 320.6,245.5 321.1,240.9 321.6,236.6 322.1,234.4 322.6,233.3 323.1,234.1 323.6,235.7 324.1,237.6 324.6,239.8 325.1,242.3 325.6,244.7 326.1,246.8 326.6,248.9 327.1,251.0 327.6,253.1 328.1,255.4 328.6,258.0 329.1,260.8 329.6,263.8 330.1,267.1 330.6,270.6 331.1,274.5 331.6,279.1 332.1,285.2 332.6,290.6 333.1,294.9 333.6,304.3 334.1,314.8 334.6,314.8 335.1,314.8 335.6,314.8 336.1,314.8 336.6,314.8 337.1,314.8 337.6,314.8 338.1,314.8 338.6,314.8 339.1,314.8 339.6,314.8 340.1,314.8 340.6,314.8 341.1,314.8 341.6,314.8 342.1,314.8 342.6,314.8 343.1,314.8 343.6,314.8 344.1,314.8 344.6,314.8 345.1,314.8 345.6,314.8 346.1,314.8 346.6,314.8 347.1,314.8 347.6,314.8" fill="none" stroke="#008000" stroke-width="1.25" stroke-linejoin="round" />
<polyline points="292.6,308.7 293.1,308.1 293.6,307.5 294.1,306.9 294.6,306.4 295.1,305.8 295.6,305.3 296.1,304.8 296.6,304.3 297.1,303.8 297.6,303.3 298.1,302.8 298.6,302.4 299.1,302.0 299.6,301.6 300.1,301.3 300.6,300.9 301.1,300.5 301.6,300.2 302.1,299.8 302.6,299.4 303.1,299.1 303.6,298.7 304.1,298.3 304.6,297.8 305.1,297.4 305.6,296.9 306.1,296.4 306.6,295.9 307.1,295.4 307.6,294.9 308.1,294.3 308.6,293.7 309.1,293.1 309.6,292.4 310.1,291.7 310.6,291.0 311.1,290.2 311.6,289.4 312.1,288.4 312.6,287.5 313.1,286.4 313.6,285.3 314.1,284.1 314.6,282.8 315.1,281.4 315.6,279.9 316.1,278.1 316.6,276.1 317.1,273.7 317.6,270.3 318.1,266.3 318.6,262.5 319.1,259.2 319.6,256.0 320.1,252.8 320.6,249.4 321.1,245.0 321.6,241.0 322.1,238.9 322.6,237.8 323.1,238.6 323.6,240.2 324.1,241.9 324.6,244.1 325.1,246.4 325.6,248.6 326.1,250.7 326.6,252.6 327.1,254.6 327.6,256.6 328.1,258.8 328.6,261.2 329.1,263.8 329.6,266.7 330.1,269.8 330.6,273.1 331.1,276.8 331.6,281.2 332.1,286.9 332.6,291.9 333.1,296.1 333.6,304.9 334.1,314.8 334.6,314.8 335.1,314.8 335.6,314.8 336.1,314.8 336.6,314.8 337.1,314.8 337.6,314.8 338.1,314.8 338.6,314.8 339.1,314.8 339.6,314.8 340.1,314.8 340.6,314.8 341.1,314.8 341.6,314.8 342.1,314.8 342.6,314.8 343.1,314.8 343.6,314.8 344.1,314.8 344.6,314.8 345.1,314.8 345.6,314.8 346.1,314.8 346.6,314.8 347.1,314.8 347.6,314.8" fill="none" stroke="#0000ff" stroke-width="1.25" stroke-linejoin="round" />
<polyline points="354.0,310.9 354.5,310.7 355.0,310.4 355.5,310.2 356.0,309.9 356.5,309.6 357.0,309.3 357.5,308.9 358.0,308.6 358.5,308.2 359.0,307.7 359.5,307.3 360.0,306.8 360.5,306.4 361.0,305.9 361.5,305.4 362.0,304.8 362.5,304.3 363.0,303.6 363.5,303.0 364.0,302.3 364.5,301.7 365.0,301.0 365.5,300.4 366.0,299.7 366.5,299.1 367.0,298.3 367.5,297.6 368.0,296.7 368.5,295.7 369.0,294.5 369.5,293.1 370.0,291.6 370.5,290.0 371.0,288.4 371.5,286.8 372.0,285.1 372.5,283.3 373.0,281.5 373.5,279.8 374.0,278.2 374.5,276.6 375.0,275.3 375.5,274.3 376.0,273.7 376.5,274.3 377.0,275.5 377.5,276.9 378.0,278.6 378.5,280.3 379.0,281.9 379.5,283.2 380.0,284.1 380.5,284.9 381.0,285.7 381.5,286.6 382.0,287.7 382.5,289.2 383.0,291.2 383.5,293.6 384.0,296.2 384.5,299.0 385.0,302.5 385.5,308.5 386.0,314.8 386.5,314.8 387.0,314.8 387.5,314.8 388.0,314.8 388.5,314.8 389.0,314.8 389.5,314.8 390.0,314.8 390.5,314.8 391.0,314.8 391.5,314.8 392.0,314.8 392.5,314.8 393.0,314.8 393.5,314.8 394.0,314.8 394.5,314.8 395.0,314.8 395.5,314.8 396.0,314.8 396.5,314.8 397.0,314.8 397.5,314.8 398.0,314.8 398.5,314.8 399.0,314.8 399.5,314.8 400.0,314.8 400.5,314.8 401.0,314.8" fill="none" stroke="#ff0000" stroke-width="1.25" stroke-dasharray="4.2,3.2" stroke-linejoin="round" />
<polyline points="354.0,309.3 354.5,309.0 355.0,308.6 355.5,308.2 356.0,307.9 356.5,307.4 357.0,307.0 357.5,306.5 358.0,306.0 358.5,305.4 359.0,304.8 359.5,304.2 360.0,303.5 360.5,302.8 361.0,302.2 361.5,301.5 362.0,300.7 362.5,299.9 363.0,299.0 363.5,298.1 364.0,297.2 364.5,296.2 365.0,295.3 365.5,294.4 366.0,293.5 366.5,292.5 367.0,291.5 367.5,290.4 368.0,289.2 368.5,287.8 369.0,286.1 369.5,284.1 370.0,282.0 370.5,279.8 371.0,277.5 371.5,275.3 372.0,272.9 372.5,270.3 373.0,267.7 373.5,265.4 374.0,263.1 374.5,260.9 375.0,259.0 375.5,257.5 376.0,256.6 376.5,257.6 377.0,259.3 377.5,261.3 378.0,263.6 378.5,266.1 379.0,268.3 379.5,270.1 380.0,271.4 380.5,272.6 381.0,273.7 381.5,275.0 382.0,276.5 382.5,278.6 383.0,281.4 383.5,284.8 384.0,288.5 384.5,292.4 385.0,297.4 385.5,305.8 386.0,314.8 386.5,314.8 387.0,314.8 387.5,314.8 388.0,314.8 388.5,314.8 389.0,314.8 389.5,314.8 390.0,314.8 390.5,314.8 391.0,314.8 391.5,314.8 392.0,314.8 392.5,314.8 393.0,314.8 393.5,314.8 394.0,314.8 394.5,314.8 395.0,314.8 395.5,314.8 396.0,314.8 396.5,314.8 397.0,314.8 397.5,314.8 398.0,314.8 398.5,314.8 399.0,314.8 399.5,314.8 400.0,314.8 400.5,314.8 401.0,314.8" fill="none" stroke="#008000" stroke-width="1.25" stroke-dasharray="4.2,3.2" stroke-linejoin="round" />
<polyline points="354.0,307.4 354.5,306.9 355.0,306.4 355.5,305.9 356.0,305.4 356.5,304.9 357.0,304.2 357.5,303.6 358.0,302.9 358.5,302.1 359.0,301.3 359.5,300.5 360.0,299.6 360.5,298.7 361.0,297.7 361.5,296.8 362.0,295.8 362.5,294.7 363.0,293.5 363.5,292.3 364.0,291.0 364.5,289.7 365.0,288.5 365.5,287.3 366.0,286.0 366.5,284.8 367.0,283.4 367.5,281.9 368.0,280.2 368.5,278.3 369.0,276.0 369.5,273.4 370.0,270.6 370.5,267.6 371.0,264.5 371.5,261.5 372.0,258.2 372.5,254.8 373.0,251.3 373.5,248.1 374.0,245.0 374.5,242.0 375.0,239.5 375.5,237.5 376.0,236.3 376.5,237.7 377.0,239.9 377.5,242.6 378.0,245.8 378.5,249.1 379.0,252.1 379.5,254.5 380.0,256.3 380.5,257.9 381.0,259.4 381.5,261.1 382.0,263.1 382.5,265.9 383.0,269.7 383.5,274.3 384.0,279.4 384.5,284.6 385.0,291.3 385.5,302.7 386.0,314.8 386.5,314.8 387.0,314.8 387.5,314.8 388.0,314.8 388.5,314.8 389.0,314.8 389.5,314.8 390.0,314.8 390.5,314.8 391.0,314.8 391.5,314.8 392.0,314.8 392.5,314.8 393.0,314.8 393.5,314.8 394.0,314.8 394.5,314.8 395.0,314.8 395.5,314.8 396.0,314.8 396.5,314.8 397.0,314.8 397.5,314.8 398.0,314.8 398.5,314.8 399.0,314.8 399.5,314.8 400.0,314.8 400.5,314.8 401.0,314.8" fill="none" stroke="#0000ff" stroke-width="1.25" stroke-dasharray="4.2,3.2" stroke-linejoin="round" />
<polyline points="357.1,308.1 357.6,307.5 358.1,306.8 358.6,306.2 359.1,305.6 359.6,305.0 360.1,304.4 360.6,303.8 361.1,303.3 361.6,302.8 362.1,302.2 362.6,301.8 363.1,301.3 363.6,300.9 364.1,300.4 364.6,300.0 365.1,299.6 365.6,299.2 366.1,298.8 366.6,298.4 367.1,298.0 367.6,297.6 368.1,297.2 368.6,296.8 369.1,296.3 369.6,295.8 370.1,295.3 370.6,294.8 371.1,294.2 371.6,293.7 372.1,293.1 372.6,292.5 373.1,291.8 373.6,291.1 374.1,290.4 374.6,289.7 375.1,288.8 375.6,288.0 376.1,287.0 376.6,286.0 377.1,285.0 377.6,283.8 378.1,282.6 378.6,281.3 379.1,279.9 379.6,278.4 380.1,276.7 380.6,274.8 381.1,272.6 381.6,270.0 382.1,266.3 382.6,261.9 383.1,257.7 383.6,254.1 384.1,250.7 384.6,247.2 385.1,243.5 385.6,238.7 386.1,234.4 386.6,232.0 387.1,230.9 387.6,231.7 388.1,233.4 388.6,235.3 389.1,237.7 389.6,240.2 390.1,242.6 390.6,244.8 391.1,247.0 391.6,249.1 392.1,251.3 392.6,253.7 393.1,256.3 393.6,259.2 394.1,262.3 394.6,265.7 395.1,269.3 395.6,273.4 396.1,278.1 396.6,284.4 397.1,289.9 397.6,294.4 398.1,304.0 398.6,314.8 399.1,314.8 399.6,314.8 400.1,314.8 400.6,314.8 401.1,314.8 401.6,314.8 402.1,314.8 402.6,314.8 403.1,314.8 403.6,314.8 404.1,314.8 404.6,314.8 405.1,314.8 405.6,314.8 406.1,314.8 406.6,314.8 407.1,314.8 407.6,314.8 408.1,314.8 408.6,314.8 409.1,314.8 409.6,314.8 410.1,314.8 410.6,314.8 411.1,314.8 411.6,314.8 412.1,314.8" fill="none" stroke="#ff0000" stroke-width="1.25" stroke-linejoin="round" />
<polyline points="357.1,308.2 357.6,307.6 358.1,307.0 358.6,306.4 359.1,305.8 359.6,305.2 360.1,304.6 360.6,304.0 361.1,303.5 361.6,303.0 362.1,302.5 362.6,302.0 363.1,301.5 363.6,301.1 364.1,300.7 364.6,300.3 365.1,299.9 365.6,299.5 366.1,299.1 366.6,298.7 367.1,298.3 367.6,297.9 368.1,297.5 368.6,297.1 369.1,296.6 369.6,296.2 370.1,295.6 370.6,295.1 371.1,294.6 371.6,294.0 372.1,293.5 372.6,292.9 373.1,292.2 373.6,291.6 374.1,290.8 374.6,290.1 375.1,289.3 375.6,288.5 376.1,287.5 376.6,286.6 377.1,285.5 377.6,284.4 378.1,283.2 378.6,281.9 379.1,280.5 379.6,279.1 380.1,277.4 380.6,275.5 381.1,273.4 381.6,270.8 382.1,267.1 382.6,262.8 383.1,258.8 383.6,255.2 384.1,251.9 384.6,248.4 385.1,244.7 385.6,240.1 386.1,235.8 386.6,233.5 387.1,232.4 387.6,233.2 388.1,234.8 388.6,236.7 389.1,239.0 389.6,241.5 390.1,243.9 390.6,246.1 391.1,248.2 391.6,250.3 392.1,252.5 392.6,254.8 393.1,257.3 393.6,260.2 394.1,263.3 394.6,266.6 395.1,270.2 395.6,274.1 396.1,278.8 396.6,284.9 397.1,290.3 397.6,294.7 398.1,304.2 398.6,314.8 399.1,314.8 399.6,314.8 400.1,314.8 400.6,314.8 401.1,314.8 401.6,314.8 402.1,314.8 402.6,314.8 403.1,314.8 403.6,314.8 404.1,314.8 404.6,314.8 405.1,314.8 405.6,314.8 406.1,314.8 406.6,314.8 407.1,314.8 407.6,314.8 408.1,314.8 408.6,314.8 409.1,314.8 409.6,314.8 410.1,314.8 410.6,314.8 411.1,314.8 411.6,314.8 412.1,314.8" fill="none" stroke="#008000" stroke-width="1.25" stroke-linejoin="round" />
<polyline points="357.1,308.6 357.6,308.0 358.1,307.4 358.6,306.9 359.1,306.3 359.6,305.7 360.1,305.2 360.6,304.7 361.1,304.2 361.6,303.7 362.1,303.2 362.6,302.7 363.1,302.3 363.6,301.9 364.1,301.5 364.6,301.1 365.1,300.8 365.6,300.4 366.1,300.0 366.6,299.7 367.1,299.3 367.6,298.9 368.1,298.5 368.6,298.1 369.1,297.7 369.6,297.2 370.1,296.8 370.6,296.3 371.1,295.8 371.6,295.2 372.1,294.7 372.6,294.1 373.1,293.5 373.6,292.9 374.1,292.2 374.6,291.5 375.1,290.8 375.6,290.0 376.1,289.1 376.6,288.2 377.1,287.2 377.6,286.1 378.1,285.0 378.6,283.8 379.1,282.5 379.6,281.1 380.1,279.6 380.6,277.8 381.1,275.8 381.6,273.4 382.1,269.9 382.6,265.8 383.1,262.0 383.6,258.7 384.1,255.5 384.6,252.3 385.1,248.8 385.6,244.4 386.1,240.4 386.6,238.2 387.1,237.1 387.6,237.9 388.1,239.5 388.6,241.2 389.1,243.4 389.6,245.8 390.1,248.0 390.6,250.1 391.1,252.0 391.6,254.0 392.1,256.1 392.6,258.3 393.1,260.7 393.6,263.3 394.1,266.2 394.6,269.4 395.1,272.7 395.6,276.5 396.1,280.8 396.6,286.6 397.1,291.7 397.6,295.9 398.1,304.8 398.6,314.8 399.1,314.8 399.6,314.8 400.1,314.8 400.6,314.8 401.1,314.8 401.6,314.8 402.1,314.8 402.6,314.8 403.1,314.8 403.6,314.8 404.1,314.8 404.6,314.8 405.1,314.8 405.6,314.8 406.1,314.8 406.6,314.8 407.1,314.8 407.6,314.8 408.1,314.8 408.6,314.8 409.1,314.8 409.6,314.8 410.1,314.8 410.6,314.8 411.1,314.8 411.6,314.8 412.1,314.8" fill="none" stroke="#0000ff" stroke-width="1.25" stroke-linejoin="round" />
<polyline points="417.5,310.9 418.0,310.6 418.5,310.4 419.0,310.1 419.5,309.8 420.0,309.5 420.5,309.2 421.0,308.8 421.5,308.4 422.0,308.0 422.5,307.6 423.0,307.2 423.5,306.7 424.0,306.2 424.5,305.7 425.0,305.2 425.5,304.7 426.0,304.1 426.5,303.4 427.0,302.8 427.5,302.1 428.0,301.4 428.5,300.8 429.0,300.1 429.5,299.5 430.0,298.8 430.5,298.1 431.0,297.3 431.5,296.4 432.0,295.4 432.5,294.1 433.0,292.7 433.5,291.2 434.0,289.6 434.5,288.0 435.0,286.4 435.5,284.6 436.0,282.8 436.5,280.9 437.0,279.2 437.5,277.6 438.0,276.0 438.5,274.6 439.0,273.6 439.5,272.9 440.0,273.6 440.5,274.9 441.0,276.3 441.5,278.0 442.0,279.7 442.5,281.4 443.0,282.6 443.5,283.6 444.0,284.4 444.5,285.2 445.0,286.1 445.5,287.2 446.0,288.7 446.5,290.7 447.0,293.2 447.5,295.9 448.0,298.7 448.5,302.3 449.0,308.3 449.5,314.8 450.0,314.8 450.5,314.8 451.0,314.8 451.5,314.8 452.0,314.8 452.5,314.8 453.0,314.8 453.5,314.8 454.0,314.8 454.5,314.8 455.0,314.8 455.5,314.8 456.0,314.8 456.5,314.8 457.0,314.8 457.5,314.8 458.0,314.8 458.5,314.8 459.0,314.8 459.5,314.8 460.0,314.8 460.5,314.8 461.0,314.8 461.5,314.8 462.0,314.8 462.5,314.8 463.0,314.8 463.5,314.8 464.0,314.8 464.5,314.8" fill="none" stroke="#ff0000" stroke-width="1.25" stroke-dasharray="4.2,3.2" stroke-linejoin="round" />
<polyline points="417.5,309.3 418.0,308.9 418.5,308.5 419.0,308.2 419.5,307.8 420.0,307.4 420.5,306.9 421.0,306.4 421.5,305.9 422.0,305.3 422.5,304.7 423.0,304.0 423.5,303.4 424.0,302.7 424.5,302.0 425.0,301.3 425.5,300.5 426.0,299.7 426.5,298.8 427.0,297.9 427.5,296.9 428.0,296.0 428.5,295.1 429.0,294.1 429.5,293.2 430.0,292.3 430.5,291.2 431.0,290.1 431.5,288.9 432.0,287.4 432.5,285.7 433.0,283.8 433.5,281.6 434.0,279.4 434.5,277.1 435.0,274.8 435.5,272.4 436.0,269.8 436.5,267.2 437.0,264.8 437.5,262.4 438.0,260.2 438.5,258.3 439.0,256.8 439.5,255.9 440.0,256.9 440.5,258.6 441.0,260.6 441.5,263.0 442.0,265.5 442.5,267.8 443.0,269.5 443.5,270.9 444.0,272.1 444.5,273.2 445.0,274.5 445.5,276.0 446.0,278.1 446.5,281.0 447.0,284.4 447.5,288.2 448.0,292.2 448.5,297.2 449.0,305.7 449.5,314.8 450.0,314.8 450.5,314.8 451.0,314.8 451.5,314.8 452.0,314.8 452.5,314.8 453.0,314.8 453.5,314.8 454.0,314.8 454.5,314.8 455.0,314.8 455.5,314.8 456.0,314.8 456.5,314.8 457.0,314.8 457.5,314.8 458.0,314.8 458.5,314.8 459.0,314.8 459.5,314.8 460.0,314.8 460.5,314.8 461.0,314.8 461.5,314.8 462.0,314.8 462.5,314.8 463.0,314.8 463.5,314.8 464.0,314.8 464.5,314.8" fill="none" stroke="#008000" stroke-width="1.25" stroke-dasharray="4.2,3.2" stroke-linejoin="round" />
<polyline points="417.5,307.3 418.0,306.8 418.5,306.3 419.0,305.8 419.5,305.3 420.0,304.7 420.5,304.1 421.0,303.4 421.5,302.7 422.0,301.9 422.5,301.1 423.0,300.2 423.5,299.3 424.0,298.4 424.5,297.4 425.0,296.5 425.5,295.4 426.0,294.3 426.5,293.1 427.0,291.9 427.5,290.6 428.0,289.3 428.5,288.0 429.0,286.8 429.5,285.6 430.0,284.3 430.5,282.9 431.0,281.3 431.5,279.7 432.0,277.7 432.5,275.4 433.0,272.7 433.5,269.8 434.0,266.8 434.5,263.7 435.0,260.6 435.5,257.3 436.0,253.8 436.5,250.3 437.0,247.0 437.5,243.9 438.0,240.8 438.5,238.2 439.0,236.2 439.5,235.0 440.0,236.4 440.5,238.7 441.0,241.4 441.5,244.6 442.0,248.0 442.5,251.0 443.0,253.5 443.5,255.3 444.0,256.9 444.5,258.4 445.0,260.1 445.5,262.3 446.0,265.1 446.5,268.9 447.0,273.6 447.5,278.8 448.0,284.1 448.5,290.9 449.0,302.5 449.5,314.8 450.0,314.8 450.5,314.8 451.0,314.8 451.5,314.8 452.0,314.8 452.5,314.8 453.0,314.8 453.5,314.8 454.0,314.8 454.5,314.8 455.0,314.8 455.5,314.8 456.0,314.8 456.5,314.8 457.0,314.8 457.5,314.8 458.0,314.8 458.5,314.8 459.0,314.8 459.5,314.8 460.0,314.8 460.5,314.8 461.0,314.8 461.5,314.8 462.0,314.8 462.5,314.8 463.0,314.8 463.5,314.8 464.0,314.8 464.5,314.8" fill="none" stroke="#0000ff" stroke-width="1.25" stroke-dasharray="4.2,3.2" stroke-linejoin="round" />
<polyline points="421.1,308.1 421.6,307.4 422.1,306.8 422.6,306.1 423.1,305.5 423.6,304.9 424.1,304.3 424.6,303.8 425.1,303.2 425.6,302.7 426.1,302.1 426.6,301.6 427.1,301.2 427.6,300.7 428.1,300.3 428.6,299.9 429.1,299.5 429.6,299.1 430.1,298.7 430.6,298.3 431.1,297.9 431.6,297.5 432.1,297.1 432.6,296.6 433.1,296.1 433.6,295.7 434.1,295.1 434.6,294.6 435.1,294.1 435.6,293.5 436.1,292.9 436.6,292.3 437.1,291.6 437.6,290.9 438.1,290.2 438.6,289.4 439.1,288.6 439.6,287.7 440.1,286.8 440.6,285.8 441.1,284.7 441.6,283.6 442.1,282.3 442.6,281.0 443.1,279.6 443.6,278.1 444.1,276.4 444.6,274.5 445.1,272.3 445.6,269.7 446.1,265.9 446.6,261.4 447.1,257.3 447.6,253.6 448.1,250.2 448.6,246.7 449.1,242.9 449.6,238.1 450.1,233.7 450.6,231.3 451.1,230.2 451.6,231.0 452.1,232.7 452.6,234.6 453.1,237.0 453.6,239.6 454.1,242.0 454.6,244.3 455.1,246.4 455.6,248.6 456.1,250.8 456.6,253.2 457.1,255.8 457.6,258.7 458.1,261.9 458.6,265.3 459.1,269.0 459.6,273.0 460.1,277.8 460.6,284.1 461.1,289.6 461.6,294.2 462.1,303.9 462.6,314.8 463.1,314.8 463.6,314.8 464.1,314.8 464.6,314.8 465.1,314.8 465.6,314.8 466.1,314.8 466.6,314.8 467.1,314.8 467.6,314.8 468.1,314.8 468.6,314.8 469.1,314.8 469.6,314.8 470.1,314.8 470.6,314.8 471.1,314.8 471.6,314.8 472.1,314.8 472.6,314.8 473.1,314.8 473.6,314.8 474.1,314.8 474.6,314.8 475.1,314.8 475.6,314.8 476.1,314.8" fill="none" stroke="#ff0000" stroke-width="1.25" stroke-linejoin="round" />
<polyline points="421.1,308.2 421.6,307.6 422.1,306.9 422.6,306.3 423.1,305.7 423.6,305.1 424.1,304.5 424.6,304.0 425.1,303.4 425.6,302.9 426.1,302.4 426.6,301.9 427.1,301.5 427.6,301.0 428.1,300.6 428.6,300.2 429.1,299.8 429.6,299.4 430.1,299.0 430.6,298.6 431.1,298.3 431.6,297.9 432.1,297.4 432.6,297.0 433.1,296.5 433.6,296.1 434.1,295.5 434.6,295.0 435.1,294.5 435.6,293.9 436.1,293.3 436.6,292.7 437.1,292.1 437.6,291.4 438.1,290.7 438.6,290.0 439.1,289.2 439.6,288.3 440.1,287.4 440.6,286.4 441.1,285.4 441.6,284.2 442.1,283.0 442.6,281.7 443.1,280.4 443.6,278.9 444.1,277.2 444.6,275.3 445.1,273.2 445.6,270.6 446.1,266.9 446.6,262.6 447.1,258.5 447.6,254.9 448.1,251.5 448.6,248.1 449.1,244.4 449.6,239.7 450.1,235.4 450.6,233.1 451.1,231.9 451.6,232.8 452.1,234.4 452.6,236.3 453.1,238.6 453.6,241.1 454.1,243.5 454.6,245.7 455.1,247.8 455.6,249.9 456.1,252.1 456.6,254.5 457.1,257.0 457.6,259.9 458.1,263.0 458.6,266.3 459.1,269.9 459.6,273.9 460.1,278.6 460.6,284.8 461.1,290.2 461.6,294.6 462.1,304.1 462.6,314.8 463.1,314.8 463.6,314.8 464.1,314.8 464.6,314.8 465.1,314.8 465.6,314.8 466.1,314.8 466.6,314.8 467.1,314.8 467.6,314.8 468.1,314.8 468.6,314.8 469.1,314.8 469.6,314.8 470.1,314.8 470.6,314.8 471.1,314.8 471.6,314.8 472.1,314.8 472.6,314.8 473.1,314.8 473.6,314.8 474.1,314.8 474.6,314.8 475.1,314.8 475.6,314.8 476.1,314.8" fill="none" stroke="#008000" stroke-width="1.25" stroke-linejoin="round" />
<polyline points="421.1,308.6 421.6,308.0 422.1,307.4 422.6,306.8 423.1,306.2 423.6,305.6 424.1,305.1 424.6,304.6 425.1,304.0 425.6,303.5 426.1,303.1 426.6,302.6 427.1,302.2 427.6,301.8 428.1,301.4 428.6,301.0 429.1,300.6 429.6,300.2 430.1,299.9 430.6,299.5 431.1,299.1 431.6,298.8 432.1,298.4 432.6,297.9 433.1,297.5 433.6,297.1 434.1,296.6 434.6,296.1 435.1,295.6 435.6,295.0 436.1,294.5 436.6,293.9 437.1,293.3 437.6,292.7 438.1,292.0 438.6,291.3 439.1,290.5 439.6,289.7 440.1,288.9 440.6,287.9 441.1,286.9 441.6,285.9 442.1,284.7 442.6,283.5 443.1,282.2 443.6,280.8 444.1,279.2 444.6,277.4 445.1,275.4 445.6,272.9 446.1,269.4 446.6,265.3 447.1,261.5 447.6,258.1 448.1,254.9 448.6,251.6 449.1,248.1 449.6,243.7 450.1,239.6 450.6,237.4 451.1,236.3 451.6,237.2 452.1,238.7 452.6,240.5 453.1,242.7 453.6,245.1 454.1,247.3 454.6,249.4 455.1,251.4 455.6,253.4 456.1,255.5 456.6,257.7 457.1,260.1 457.6,262.8 458.1,265.7 458.6,268.9 459.1,272.3 459.6,276.1 460.1,280.5 460.6,286.4 461.1,291.5 461.6,295.7 462.1,304.7 462.6,314.8 463.1,314.8 463.6,314.8 464.1,314.8 464.6,314.8 465.1,314.8 465.6,314.8 466.1,314.8 466.6,314.8 467.1,314.8 467.6,314.8 468.1,314.8 468.6,314.8 469.1,314.8 469.6,314.8 470.1,314.8 470.6,314.8 471.1,314.8 471.6,314.8 472.1,314.8 472.6,314.8 473.1,314.8 473.6,314.8 474.1,314.8 474.6,314.8 475.1,314.8 475.6,314.8 476.1,314.8" fill="none" stroke="#0000ff" stroke-width="1.25" stroke-linejoin="round" />
<polyline points="482.5,310.5 483.0,310.3 483.5,310.0 484.0,309.7 484.5,309.4 485.0,309.1 485.5,308.7 486.0,308.3 486.5,307.9 487.0,307.5 487.5,307.0 488.0,306.5 488.5,306.0 489.0,305.5 489.5,304.9 490.0,304.4 490.5,303.8 491.0,303.1 491.5,302.5 492.0,301.7 492.5,301.0 493.0,300.3 493.5,299.6 494.0,298.9 494.5,298.1 495.0,297.4 495.5,296.6 496.0,295.7 496.5,294.8 497.0,293.7 497.5,292.3 498.0,290.8 498.5,289.2 499.0,287.4 499.5,285.7 500.0,283.9 500.5,282.0 501.0,280.0 501.5,278.0 502.0,276.2 502.5,274.4 503.0,272.6 503.5,271.2 504.0,270.0 504.5,269.3 505.0,270.1 505.5,271.4 506.0,273.0 506.5,274.8 507.0,276.7 507.5,278.5 508.0,279.8 508.5,280.9 509.0,281.8 509.5,282.7 510.0,283.7 510.5,284.9 511.0,286.5 511.5,288.7 512.0,291.3 512.5,294.3 513.0,297.3 513.5,301.2 514.0,307.8 514.5,314.8 515.0,314.8 515.5,314.8 516.0,314.8 516.5,314.8 517.0,314.8 517.5,314.8 518.0,314.8 518.5,314.8 519.0,314.8 519.5,314.8 520.0,314.8 520.5,314.8 521.0,314.8 521.5,314.8 522.0,314.8 522.5,314.8 523.0,314.8 523.5,314.8 524.0,314.8 524.5,314.8 525.0,314.8 525.5,314.8 526.0,314.8 526.5,314.8 527.0,314.8 527.5,314.8 528.0,314.8 528.5,314.8 529.0,314.8 529.5,314.8" fill="none" stroke="#ff0000" stroke-width="1.25" stroke-dasharray="4.2,3.2" stroke-linejoin="round" />
<polyline points="482.5,309.1 483.0,308.7 483.5,308.3 484.0,307.9 484.5,307.5 485.0,307.1 485.5,306.6 486.0,306.1 486.5,305.6 487.0,305.0 487.5,304.3 488.0,303.7 488.5,303.0 489.0,302.3 489.5,301.6 490.0,300.8 490.5,300.1 491.0,299.2 491.5,298.3 492.0,297.3 492.5,296.3 493.0,295.4 493.5,294.4 494.0,293.5 494.5,292.5 495.0,291.5 495.5,290.5 496.0,289.3 496.5,288.0 497.0,286.5 497.5,284.8 498.0,282.7 498.5,280.5 499.0,278.2 499.5,275.8 500.0,273.5 500.5,271.0 501.0,268.3 501.5,265.6 502.0,263.1 502.5,260.7 503.0,258.4 503.5,256.4 504.0,254.9 504.5,254.0 505.0,255.0 505.5,256.8 506.0,258.8 506.5,261.3 507.0,263.9 507.5,266.2 508.0,268.0 508.5,269.5 509.0,270.7 509.5,271.8 510.0,273.1 510.5,274.8 511.0,276.9 511.5,279.8 512.0,283.4 512.5,287.3 513.0,291.4 513.5,296.6 514.0,305.4 514.5,314.8 515.0,314.8 515.5,314.8 516.0,314.8 516.5,314.8 517.0,314.8 517.5,314.8 518.0,314.8 518.5,314.8 519.0,314.8 519.5,314.8 520.0,314.8 520.5,314.8 521.0,314.8 521.5,314.8 522.0,314.8 522.5,314.8 523.0,314.8 523.5,314.8 524.0,314.8 524.5,314.8 525.0,314.8 525.5,314.8 526.0,314.8 526.5,314.8 527.0,314.8 527.5,314.8 528.0,314.8 528.5,314.8 529.0,314.8 529.5,314.8" fill="none" stroke="#008000" stroke-width="1.25" stroke-dasharray="4.2,3.2" stroke-linejoin="round" />
<polyline points="482.5,307.2 483.0,306.7 483.5,306.2 484.0,305.7 484.5,305.1 485.0,304.6 485.5,303.9 486.0,303.2 486.5,302.5 487.0,301.7 487.5,300.9 488.0,300.0 488.5,299.1 489.0,298.2 489.5,297.2 490.0,296.2 490.5,295.2 491.0,294.0 491.5,292.8 492.0,291.5 492.5,290.2 493.0,288.9 493.5,287.7 494.0,286.4 494.5,285.1 495.0,283.8 495.5,282.4 496.0,280.9 496.5,279.1 497.0,277.2 497.5,274.8 498.0,272.1 498.5,269.2 499.0,266.1 499.5,262.9 500.0,259.8 500.5,256.5 501.0,252.9 501.5,249.3 502.0,246.0 502.5,242.8 503.0,239.8 503.5,237.1 504.0,235.1 504.5,233.9 505.0,235.2 505.5,237.6 506.0,240.3 506.5,243.6 507.0,247.0 507.5,250.1 508.0,252.6 508.5,254.5 509.0,256.1 509.5,257.6 510.0,259.4 510.5,261.5 511.0,264.4 511.5,268.3 512.0,273.0 512.5,278.2 513.0,283.7 513.5,290.6 514.0,302.3 514.5,314.8 515.0,314.8 515.5,314.8 516.0,314.8 516.5,314.8 517.0,314.8 517.5,314.8 518.0,314.8 518.5,314.8 519.0,314.8 519.5,314.8 520.0,314.8 520.5,314.8 521.0,314.8 521.5,314.8 522.0,314.8 522.5,314.8 523.0,314.8 523.5,314.8 524.0,314.8 524.5,314.8 525.0,314.8 525.5,314.8 526.0,314.8 526.5,314.8 527.0,314.8 527.5,314.8 528.0,314.8 528.5,314.8 529.0,314.8 529.5,314.8" fill="none" stroke="#0000ff" stroke-width="1.25" stroke-dasharray="4.2,3.2" stroke-linejoin="round" />
<polyline points="486.0,307.1 486.5,306.4 487.0,305.6 487.5,304.9 488.0,304.2 488.5,303.5 489.0,302.8 489.5,302.2 490.0,301.5 490.5,300.9 491.0,300.3 491.5,299.8 492.0,299.2 492.5,298.7 493.0,298.2 493.5,297.8 494.0,297.3 494.5,296.9 495.0,296.4 495.5,295.9 496.0,295.5 496.5,295.0 497.0,294.5 497.5,294.0 498.0,293.5 498.5,292.9 499.0,292.3 499.5,291.7 500.0,291.1 500.5,290.4 501.0,289.8 501.5,289.0 502.0,288.3 502.5,287.5 503.0,286.7 503.5,285.8 504.0,284.9 504.5,283.9 505.0,282.8 505.5,281.7 506.0,280.4 506.5,279.1 507.0,277.7 507.5,276.2 508.0,274.6 508.5,272.9 509.0,270.9 509.5,268.7 510.0,266.2 510.5,263.2 511.0,258.9 511.5,253.8 512.0,249.0 512.5,244.9 513.0,240.9 513.5,236.9 514.0,232.6 514.5,227.1 515.0,222.1 515.5,219.4 516.0,218.1 516.5,219.1 517.0,221.0 517.5,223.2 518.0,225.9 518.5,228.8 519.0,231.6 519.5,234.2 520.0,236.6 520.5,239.1 521.0,241.6 521.5,244.4 522.0,247.4 522.5,250.7 523.0,254.3 523.5,258.2 524.0,262.4 524.5,267.1 525.0,272.5 525.5,279.7 526.0,286.0 526.5,291.2 527.0,302.3 527.5,314.8 528.0,314.8 528.5,314.8 529.0,314.8 529.5,314.8 530.0,314.8 530.5,314.8 531.0,314.8 531.5,314.8 532.0,314.8 532.5,314.8 533.0,314.8 533.5,314.8 534.0,314.8 534.5,314.8 535.0,314.8 535.5,314.8 536.0,314.8 536.5,314.8 537.0,314.8 537.5,314.8 538.0,314.8 538.5,314.8 539.0,314.8 539.5,314.8 540.0,314.8 540.5,314.8 541.0,314.8" fill="none" stroke="#ff0000" stroke-width="1.25" stroke-linejoin="round" />
<polyline points="486.0,307.3 486.5,306.5 487.0,305.8 487.5,305.1 488.0,304.4 488.5,303.7 489.0,303.1 489.5,302.4 490.0,301.8 490.5,301.2 491.0,300.6 491.5,300.1 492.0,299.6 492.5,299.1 493.0,298.6 493.5,298.1 494.0,297.7 494.5,297.2 495.0,296.8 495.5,296.4 496.0,295.9 496.5,295.4 497.0,295.0 497.5,294.5 498.0,293.9 498.5,293.4 499.0,292.8 499.5,292.2 500.0,291.6 500.5,291.0 501.0,290.3 501.5,289.6 502.0,288.9 502.5,288.1 503.0,287.3 503.5,286.4 504.0,285.5 504.5,284.6 505.0,283.5 505.5,282.4 506.0,281.2 506.5,279.9 507.0,278.5 507.5,277.0 508.0,275.5 508.5,273.8 509.0,271.9 509.5,269.7 510.0,267.3 510.5,264.3 511.0,260.1 511.5,255.2 512.0,250.5 512.5,246.4 513.0,242.6 513.5,238.6 514.0,234.4 514.5,229.0 515.0,224.1 515.5,221.5 516.0,220.2 516.5,221.2 517.0,223.0 517.5,225.2 518.0,227.9 518.5,230.7 519.0,233.5 519.5,235.9 520.0,238.3 520.5,240.8 521.0,243.2 521.5,245.9 522.0,248.9 522.5,252.1 523.0,255.6 523.5,259.5 524.0,263.6 524.5,268.1 525.0,273.4 525.5,280.5 526.0,286.7 526.5,291.7 527.0,302.6 527.5,314.8 528.0,314.8 528.5,314.8 529.0,314.8 529.5,314.8 530.0,314.8 530.5,314.8 531.0,314.8 531.5,314.8 532.0,314.8 532.5,314.8 533.0,314.8 533.5,314.8 534.0,314.8 534.5,314.8 535.0,314.8 535.5,314.8 536.0,314.8 536.5,314.8 537.0,314.8 537.5,314.8 538.0,314.8 538.5,314.8 539.0,314.8 539.5,314.8 540.0,314.8 540.5,314.8 541.0,314.8" fill="none" stroke="#008000" stroke-width="1.25" stroke-linejoin="round" />
<polyline points="486.0,308.0 486.5,307.3 487.0,306.7 487.5,306.0 488.0,305.4 488.5,304.8 489.0,304.2 489.5,303.6 490.0,303.0 490.5,302.5 491.0,302.0 491.5,301.5 492.0,301.0 492.5,300.6 493.0,300.1 493.5,299.7 494.0,299.3 494.5,298.9 495.0,298.5 495.5,298.1 496.0,297.7 496.5,297.3 497.0,296.8 497.5,296.4 498.0,295.9 498.5,295.4 499.0,294.9 499.5,294.3 500.0,293.8 500.5,293.2 501.0,292.6 501.5,292.0 502.0,291.3 502.5,290.6 503.0,289.9 503.5,289.1 504.0,288.3 504.5,287.4 505.0,286.5 505.5,285.4 506.0,284.4 506.5,283.2 507.0,281.9 507.5,280.6 508.0,279.2 508.5,277.6 509.0,275.9 509.5,274.0 510.0,271.7 510.5,269.1 511.0,265.2 511.5,260.8 512.0,256.5 512.5,252.9 513.0,249.4 513.5,245.8 514.0,242.0 514.5,237.1 515.0,232.7 515.5,230.3 516.0,229.1 516.5,230.0 517.0,231.7 517.5,233.6 518.0,236.0 518.5,238.6 519.0,241.1 519.5,243.4 520.0,245.5 520.5,247.7 521.0,250.0 521.5,252.4 522.0,255.1 522.5,258.0 523.0,261.2 523.5,264.7 524.0,268.4 524.5,272.5 525.0,277.3 525.5,283.7 526.0,289.3 526.5,293.9 527.0,303.7 527.5,314.8 528.0,314.8 528.5,314.8 529.0,314.8 529.5,314.8 530.0,314.8 530.5,314.8 531.0,314.8 531.5,314.8 532.0,314.8 532.5,314.8 533.0,314.8 533.5,314.8 534.0,314.8 534.5,314.8 535.0,314.8 535.5,314.8 536.0,314.8 536.5,314.8 537.0,314.8 537.5,314.8 538.0,314.8 538.5,314.8 539.0,314.8 539.5,314.8 540.0,314.8 540.5,314.8 541.0,314.8" fill="none" stroke="#0000ff" stroke-width="1.25" stroke-linejoin="round" />
</g>
<rect x="227" y="156.2" width="303.3" height="141.0" fill="none" stroke="#000000" stroke-width="1.5"/>
<line x1="227" y1="288.38" x2="231.5" y2="288.38" stroke="#000000" stroke-width="1.2"/>
<line x1="227" y1="261.91999999999996" x2="231.5" y2="261.91999999999996" stroke="#000000" stroke-width="1.2"/>
<line x1="227" y1="235.45999999999998" x2="231.5" y2="235.45999999999998" stroke="#000000" stroke-width="1.2"/>
<line x1="227" y1="209.0" x2="231.5" y2="209.0" stroke="#000000" stroke-width="1.2"/>
<line x1="227" y1="182.54" x2="231.5" y2="182.54" stroke="#000000" stroke-width="1.2"/>
<line x1="227" y1="156.07999999999998" x2="231.5" y2="156.07999999999998" stroke="#000000" stroke-width="1.2"/>
<line x1="227" y1="275.15" x2="229.5" y2="275.15" stroke="#000000" stroke-width="1.2"/>
<line x1="227" y1="248.69" x2="229.5" y2="248.69" stroke="#000000" stroke-width="1.2"/>
<line x1="227" y1="222.23" x2="229.5" y2="222.23" stroke="#000000" stroke-width="1.2"/>
<line x1="227" y1="195.76999999999998" x2="229.5" y2="195.76999999999998" stroke="#000000" stroke-width="1.2"/>
<line x1="227" y1="169.31" x2="229.5" y2="169.31" stroke="#000000" stroke-width="1.2"/>
<line x1="265.6" y1="297.2" x2="265.6" y2="292.7" stroke="#000000" stroke-width="1.2"/>
<line x1="341.1" y1="297.2" x2="341.1" y2="292.7" stroke="#000000" stroke-width="1.2"/>
<line x1="416.6" y1="297.2" x2="416.6" y2="292.7" stroke="#000000" stroke-width="1.2"/>
<line x1="492.1" y1="297.2" x2="492.1" y2="292.7" stroke="#000000" stroke-width="1.2"/>
<line x1="303.35" y1="297.2" x2="303.35" y2="294.7" stroke="#000000" stroke-width="1.2"/>
<line x1="378.85" y1="297.2" x2="378.85" y2="294.7" stroke="#000000" stroke-width="1.2"/>
<line x1="454.35" y1="297.2" x2="454.35" y2="294.7" stroke="#000000" stroke-width="1.2"/>
<text x="229" y="15.7" font-size="8.8" text-anchor="start" fill="#000000" >AlGaN EBL</text>
<text x="282.5" y="15.7" font-size="8.95" text-anchor="start" fill="#000000" >BAlN EBL</text>
<line x1="230" y1="28" x2="236" y2="28" stroke="#ff0000" stroke-width="1.5"/>
<line x1="241" y1="28" x2="247" y2="28" stroke="#ff0000" stroke-width="1.5"/>
<line x1="252.5" y1="28" x2="258.5" y2="28" stroke="#ff0000" stroke-width="1.5"/>
<line x1="282.3" y1="28" x2="310.6" y2="28" stroke="#ff0000" stroke-width="1.5"/>
<text x="312.5" y="31.9" font-size="9.3" text-anchor="start" fill="#000000" >[Mg] 1E18/cm<tspan font-size="6.2" dy="-3.7">3</tspan></text>
<line x1="230" y1="44" x2="236" y2="44" stroke="#008000" stroke-width="1.5"/>
<line x1="241" y1="44" x2="247" y2="44" stroke="#008000" stroke-width="1.5"/>
<line x1="252.5" y1="44" x2="258.5" y2="44" stroke="#008000" stroke-width="1.5"/>
<line x1="282.3" y1="44" x2="310.6" y2="44" stroke="#008000" stroke-width="1.5"/>
<text x="312.5" y="47.9" font-size="9.3" text-anchor="start" fill="#000000" >[Mg] 1E19/cm<tspan font-size="6.2" dy="-3.7">3</tspan></text>
<line x1="230" y1="64" x2="236" y2="64" stroke="#0000ff" stroke-width="1.5"/>
<line x1="241" y1="64" x2="247" y2="64" stroke="#0000ff" stroke-width="1.5"/>
<line x1="252.5" y1="64" x2="258.5" y2="64" stroke="#0000ff" stroke-width="1.5"/>
<line x1="282.3" y1="64" x2="310.6" y2="64" stroke="#0000ff" stroke-width="1.5"/>
<text x="312.5" y="67.9" font-size="9.3" text-anchor="start" fill="#000000" >[Mg] 1E20/cm<tspan font-size="6.2" dy="-3.7">3</tspan></text>
<text x="229" y="165.2" font-size="8.8" text-anchor="start" fill="#000000" >AlGaN EBL</text>
<text x="282.5" y="165.2" font-size="8.95" text-anchor="start" fill="#000000" >BAlN EBL</text>
<line x1="230" y1="176.4" x2="236" y2="176.4" stroke="#ff0000" stroke-width="1.5"/>
<line x1="241" y1="176.4" x2="247" y2="176.4" stroke="#ff0000" stroke-width="1.5"/>
<line x1="252.5" y1="176.4" x2="258.5" y2="176.4" stroke="#ff0000" stroke-width="1.5"/>
<line x1="282.3" y1="176.4" x2="310.6" y2="176.4" stroke="#ff0000" stroke-width="1.5"/>
<text x="312.5" y="180.3" font-size="9.3" text-anchor="start" fill="#000000" >[Mg] 1E18/cm<tspan font-size="6.2" dy="-3.7">3</tspan></text>
<line x1="230" y1="193.2" x2="236" y2="193.2" stroke="#008000" stroke-width="1.5"/>
<line x1="241" y1="193.2" x2="247" y2="193.2" stroke="#008000" stroke-width="1.5"/>
<line x1="252.5" y1="193.2" x2="258.5" y2="193.2" stroke="#008000" stroke-width="1.5"/>
<line x1="282.3" y1="193.2" x2="310.6" y2="193.2" stroke="#008000" stroke-width="1.5"/>
<text x="312.5" y="197.1" font-size="9.3" text-anchor="start" fill="#000000" >[Mg] 1E19/cm<tspan font-size="6.2" dy="-3.7">3</tspan></text>
<line x1="230" y1="212.2" x2="236" y2="212.2" stroke="#0000ff" stroke-width="1.5"/>
<line x1="241" y1="212.2" x2="247" y2="212.2" stroke="#0000ff" stroke-width="1.5"/>
<line x1="252.5" y1="212.2" x2="258.5" y2="212.2" stroke="#0000ff" stroke-width="1.5"/>
<line x1="282.3" y1="212.2" x2="310.6" y2="212.2" stroke="#0000ff" stroke-width="1.5"/>
<text x="312.5" y="216.1" font-size="9.3" text-anchor="start" fill="#000000" >[Mg] 1E20/cm<tspan font-size="6.2" dy="-3.7">3</tspan></text>
<text x="33" y="21" font-size="8.8" text-anchor="start" fill="#000000" >AlGaN EBL</text>
<text x="91.5" y="21" font-size="8.95" text-anchor="start" fill="#000000" >BAlN EBL</text>
<line x1="40.3" y1="30.6" x2="46" y2="30.6" stroke="#ff0000" stroke-width="1.5"/>
<line x1="51" y1="30.6" x2="56.8" y2="30.6" stroke="#ff0000" stroke-width="1.5"/>
<line x1="91.5" y1="30.6" x2="112" y2="30.6" stroke="#ff0000" stroke-width="1.5"/>
<text x="115.6" y="34.300000000000004" font-size="9.15" text-anchor="start" fill="#000000" >[Mg] 1E18/cm<tspan font-size="6.2" dy="-3.7">3</tspan></text>
<line x1="40.3" y1="44.3" x2="46" y2="44.3" stroke="#008000" stroke-width="1.5"/>
<line x1="51" y1="44.3" x2="56.8" y2="44.3" stroke="#008000" stroke-width="1.5"/>
<line x1="91.5" y1="44.3" x2="112" y2="44.3" stroke="#008000" stroke-width="1.5"/>
<text x="115.6" y="48.0" font-size="9.15" text-anchor="start" fill="#000000" >[Mg] 1E19/cm<tspan font-size="6.2" dy="-3.7">3</tspan></text>
<line x1="40.3" y1="56.5" x2="46" y2="56.5" stroke="#0000ff" stroke-width="1.5"/>
<line x1="51" y1="56.5" x2="56.8" y2="56.5" stroke="#0000ff" stroke-width="1.5"/>
<line x1="91.5" y1="56.5" x2="112" y2="56.5" stroke="#0000ff" stroke-width="1.5"/>
<text x="115.6" y="60.2" font-size="9.15" text-anchor="start" fill="#000000" >[Mg] 1E20/cm<tspan font-size="6.2" dy="-3.7">3</tspan></text>
<text x="1.2" y="9.8" font-size="10" text-anchor="start" fill="#000000" >(a)</text>
<text x="27" y="10" font-size="10" text-anchor="end" fill="#000000" >20</text>
<text x="26.5" y="99.3" font-size="9.8" text-anchor="end" fill="#000000" >15</text>
<text x="26.5" y="228.5" font-size="9.5" text-anchor="end" fill="#000000" >0</text>
<text x="27.5" y="300.5" font-size="9.8" text-anchor="end" fill="#000000" >-5</text>
<text x="33.9" y="310.2" font-size="10" text-anchor="middle" fill="#000000" >0.10</text>
<text x="83.69999999999996" y="310.2" font-size="10" text-anchor="middle" fill="#000000" >0.12</text>
<text x="133.50000000000003" y="310.2" font-size="10" text-anchor="middle" fill="#000000" >0.14</text>
<text x="183.29999999999998" y="310.2" font-size="10" text-anchor="middle" fill="#000000" >0.16</text>
<text x="104.8" y="321.2" font-size="9.5" text-anchor="middle" fill="#000000" >Relative distance (μm)</text>
<text x="45.7" y="222.6" font-size="11.9" text-anchor="start" fill="#000000" >EBL</text>
<text x="90" y="222.5" font-size="11.5" text-anchor="start" fill="#000000" >p-AlGaN</text>
<text x="104.4" y="190.4" font-size="11.25" text-anchor="start" fill="#ff0000" >electron leakage</text>
<text transform="translate(8.6,143.5) rotate(-90)" font-size="11.1" text-anchor="middle">Elec_Conc (Log 1/cm<tspan font-size="7" dy="-4">3</tspan><tspan dy="4">)</tspan></text>
<text x="195.2" y="9.8" font-size="11" text-anchor="start" fill="#000000" >(b)</text>
<text x="222.8" y="9.5" font-size="10.3" text-anchor="end" fill="#000000" >18</text>
<text x="222.8" y="36.1" font-size="10.3" text-anchor="end" fill="#000000" >15</text>
<text x="222.8" y="62.5" font-size="10.3" text-anchor="end" fill="#000000" >12</text>
<text x="222.8" y="88.9" font-size="10.3" text-anchor="end" fill="#000000" >9</text>
<text x="222.8" y="115.3" font-size="10.3" text-anchor="end" fill="#000000" >6</text>
<text x="222.8" y="141.7" font-size="10.3" text-anchor="end" fill="#000000" >3</text>
<text transform="translate(206.6,77.8) rotate(-90)" font-size="11.1" text-anchor="middle">Elec_Conc (E18/cm<tspan font-size="7" dy="-4">3</tspan><tspan dy="4">)</tspan></text>
<text x="195.8" y="159.3" font-size="11" text-anchor="start" fill="#000000" >(c)</text>
<text x="222.8" y="159.57999999999998" font-size="10.3" text-anchor="end" fill="#000000" >18</text>
<text x="222.8" y="186.04" font-size="10.3" text-anchor="end" fill="#000000" >15</text>
<text x="222.8" y="212.5" font-size="10.3" text-anchor="end" fill="#000000" >12</text>
<text x="222.8" y="238.95999999999998" font-size="10.3" text-anchor="end" fill="#000000" >9</text>
<text x="222.8" y="265.41999999999996" font-size="10.3" text-anchor="end" fill="#000000" >6</text>
<text x="222.8" y="291.88" font-size="10.3" text-anchor="end" fill="#000000" >3</text>
<text transform="translate(206.6,226.6) rotate(-90)" font-size="11.1" text-anchor="middle">Hole_Conc (E18/cm<tspan font-size="7" dy="-4">3</tspan><tspan dy="4">)</tspan></text>
<text x="265.6" y="310.7" font-size="10.3" text-anchor="middle" fill="#000000" >0.02</text>
<text x="341.1" y="310.7" font-size="10.3" text-anchor="middle" fill="#000000" >0.04</text>
<text x="416.6" y="310.7" font-size="10.3" text-anchor="middle" fill="#000000" >0.06</text>
<text x="492.1" y="310.7" font-size="10.3" text-anchor="middle" fill="#000000" >0.08</text>
<text x="378.5" y="323.6" font-size="10.3" text-anchor="middle" fill="#000000" >Relative distance (μm)</text>
</svg>
</body></html>
